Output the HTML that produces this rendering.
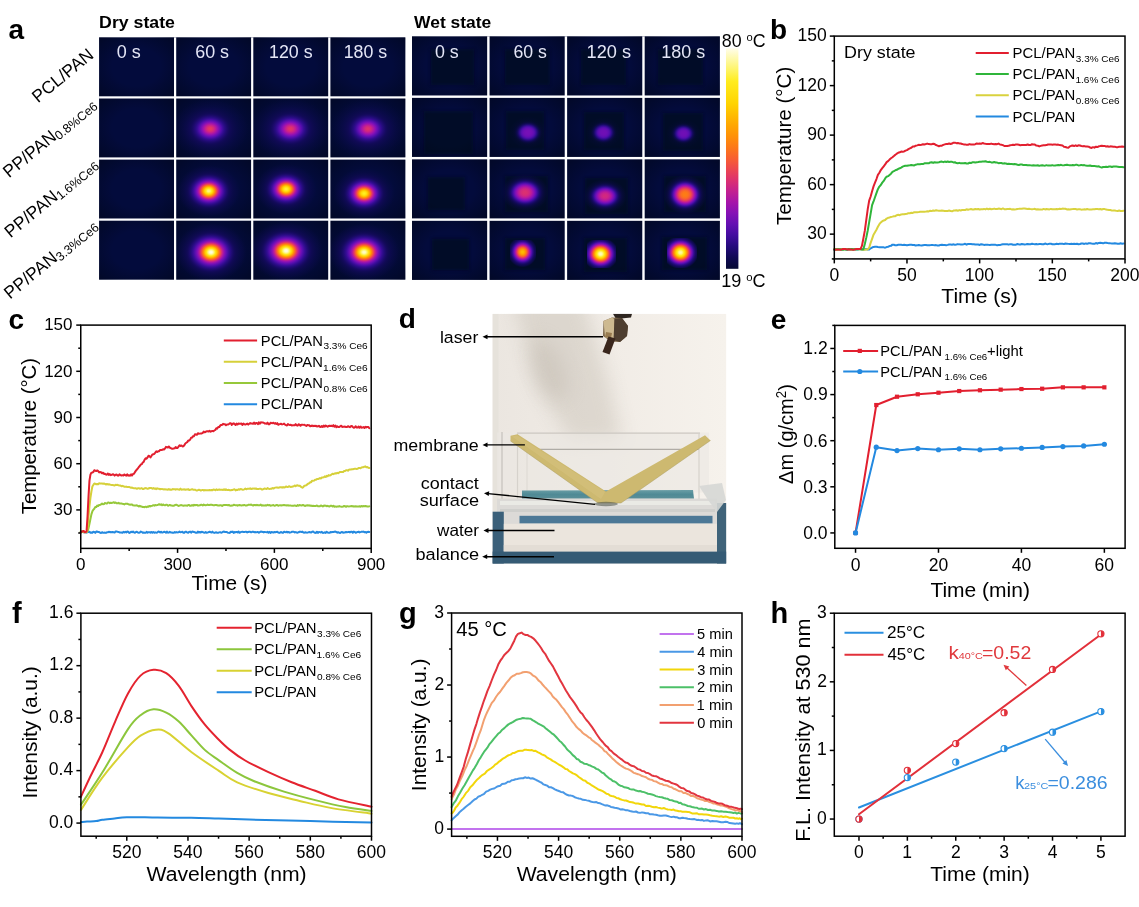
<!DOCTYPE html>
<html><head><meta charset="utf-8"><style>
html,body{margin:0;padding:0;background:#fff;overflow:hidden;}
svg{display:block;will-change:transform;}
text{font-family:"Liberation Sans",sans-serif;}
</style></head><body>
<svg width="1139" height="907" viewBox="0 0 1139 907">
<defs>
<clipPath id="dryclip"><rect x="99.1" y="37.4" width="306.20" height="242.20"/></clipPath>
<clipPath id="wetclip"><rect x="412.0" y="36.4" width="307.84" height="243.48"/></clipPath>
<radialGradient id="vig" cx="0.5" cy="0.5" r="0.72"><stop offset="0.45" stop-color="#000614" stop-opacity="0"/><stop offset="1" stop-color="#000614" stop-opacity="0.55"/></radialGradient>
<filter id="blur1" x="-20%" y="-20%" width="140%" height="140%"><feGaussianBlur stdDeviation="1.5"/></filter>
<radialGradient id="sg1" cx="0.5" cy="0.5" r="0.5"><stop offset="0.000" stop-color="#e63c5e" stop-opacity="1.00"/><stop offset="0.042" stop-color="#e43764" stop-opacity="1.00"/><stop offset="0.083" stop-color="#d82e75" stop-opacity="1.00"/><stop offset="0.125" stop-color="#c5218e" stop-opacity="1.00"/><stop offset="0.167" stop-color="#aa16a6" stop-opacity="1.00"/><stop offset="0.208" stop-color="#8a11b4" stop-opacity="1.00"/><stop offset="0.250" stop-color="#6b0fb5" stop-opacity="1.00"/><stop offset="0.292" stop-color="#500eab" stop-opacity="1.00"/><stop offset="0.333" stop-color="#3a0d97" stop-opacity="1.00"/><stop offset="0.375" stop-color="#290c85" stop-opacity="1.00"/><stop offset="0.417" stop-color="#200b73" stop-opacity="1.00"/><stop offset="0.458" stop-color="#180a65" stop-opacity="1.00"/><stop offset="0.500" stop-color="#120a59" stop-opacity="1.00"/><stop offset="0.542" stop-color="#100a54" stop-opacity="0.94"/><stop offset="0.583" stop-color="#100a54" stop-opacity="0.76"/><stop offset="0.625" stop-color="#100a54" stop-opacity="0.60"/><stop offset="0.667" stop-color="#100a54" stop-opacity="0.47"/><stop offset="0.708" stop-color="#100a54" stop-opacity="0.36"/><stop offset="0.750" stop-color="#100a54" stop-opacity="0.27"/><stop offset="0.792" stop-color="#100a54" stop-opacity="0.21"/><stop offset="0.833" stop-color="#100a54" stop-opacity="0.15"/><stop offset="0.875" stop-color="#100a54" stop-opacity="0.11"/><stop offset="0.917" stop-color="#100a54" stop-opacity="0.07"/><stop offset="0.958" stop-color="#100a54" stop-opacity="0.02"/><stop offset="1.000" stop-color="#100a54" stop-opacity="0.00"/></radialGradient>
<radialGradient id="sg2" cx="0.5" cy="0.5" r="0.5"><stop offset="0.000" stop-color="#e43764" stop-opacity="1.00"/><stop offset="0.042" stop-color="#e0346a" stop-opacity="1.00"/><stop offset="0.083" stop-color="#d42b7b" stop-opacity="1.00"/><stop offset="0.125" stop-color="#c01f93" stop-opacity="1.00"/><stop offset="0.167" stop-color="#a614a9" stop-opacity="1.00"/><stop offset="0.208" stop-color="#8611b6" stop-opacity="1.00"/><stop offset="0.250" stop-color="#680fb4" stop-opacity="1.00"/><stop offset="0.292" stop-color="#4e0ea9" stop-opacity="1.00"/><stop offset="0.333" stop-color="#380d95" stop-opacity="1.00"/><stop offset="0.375" stop-color="#280c83" stop-opacity="1.00"/><stop offset="0.417" stop-color="#1f0b71" stop-opacity="1.00"/><stop offset="0.458" stop-color="#170a63" stop-opacity="1.00"/><stop offset="0.500" stop-color="#110a58" stop-opacity="1.00"/><stop offset="0.542" stop-color="#100a54" stop-opacity="0.92"/><stop offset="0.583" stop-color="#100a54" stop-opacity="0.74"/><stop offset="0.625" stop-color="#100a54" stop-opacity="0.58"/><stop offset="0.667" stop-color="#100a54" stop-opacity="0.46"/><stop offset="0.708" stop-color="#100a54" stop-opacity="0.35"/><stop offset="0.750" stop-color="#100a54" stop-opacity="0.27"/><stop offset="0.792" stop-color="#100a54" stop-opacity="0.20"/><stop offset="0.833" stop-color="#100a54" stop-opacity="0.15"/><stop offset="0.875" stop-color="#100a54" stop-opacity="0.11"/><stop offset="0.917" stop-color="#100a54" stop-opacity="0.06"/><stop offset="0.958" stop-color="#100a54" stop-opacity="0.02"/><stop offset="1.000" stop-color="#100a54" stop-opacity="0.00"/></radialGradient>
<radialGradient id="sg3" cx="0.5" cy="0.5" r="0.5"><stop offset="0.000" stop-color="#df346b" stop-opacity="1.00"/><stop offset="0.042" stop-color="#db3071" stop-opacity="1.00"/><stop offset="0.083" stop-color="#cf2881" stop-opacity="1.00"/><stop offset="0.125" stop-color="#bb1d97" stop-opacity="1.00"/><stop offset="0.167" stop-color="#a114ac" stop-opacity="1.00"/><stop offset="0.208" stop-color="#8211b7" stop-opacity="1.00"/><stop offset="0.250" stop-color="#650fb3" stop-opacity="1.00"/><stop offset="0.292" stop-color="#4b0ea6" stop-opacity="1.00"/><stop offset="0.333" stop-color="#360c93" stop-opacity="1.00"/><stop offset="0.375" stop-color="#270c81" stop-opacity="1.00"/><stop offset="0.417" stop-color="#1e0b70" stop-opacity="1.00"/><stop offset="0.458" stop-color="#160a62" stop-opacity="1.00"/><stop offset="0.500" stop-color="#110a57" stop-opacity="1.00"/><stop offset="0.542" stop-color="#100a54" stop-opacity="0.90"/><stop offset="0.583" stop-color="#100a54" stop-opacity="0.72"/><stop offset="0.625" stop-color="#100a54" stop-opacity="0.57"/><stop offset="0.667" stop-color="#100a54" stop-opacity="0.45"/><stop offset="0.708" stop-color="#100a54" stop-opacity="0.34"/><stop offset="0.750" stop-color="#100a54" stop-opacity="0.26"/><stop offset="0.792" stop-color="#100a54" stop-opacity="0.20"/><stop offset="0.833" stop-color="#100a54" stop-opacity="0.14"/><stop offset="0.875" stop-color="#100a54" stop-opacity="0.10"/><stop offset="0.917" stop-color="#100a54" stop-opacity="0.06"/><stop offset="0.958" stop-color="#100a54" stop-opacity="0.02"/><stop offset="1.000" stop-color="#100a54" stop-opacity="0.00"/></radialGradient>
<radialGradient id="sg4" cx="0.5" cy="0.5" r="0.5"><stop offset="0.000" stop-color="#fdf88c" stop-opacity="1.00"/><stop offset="0.042" stop-color="#fef570" stop-opacity="1.00"/><stop offset="0.083" stop-color="#ffec22" stop-opacity="1.00"/><stop offset="0.125" stop-color="#ffd805" stop-opacity="1.00"/><stop offset="0.167" stop-color="#ffad00" stop-opacity="1.00"/><stop offset="0.208" stop-color="#fd7e13" stop-opacity="1.00"/><stop offset="0.250" stop-color="#ee4c4a" stop-opacity="1.00"/><stop offset="0.292" stop-color="#cf2782" stop-opacity="1.00"/><stop offset="0.333" stop-color="#a614a9" stop-opacity="1.00"/><stop offset="0.375" stop-color="#7e10b9" stop-opacity="1.00"/><stop offset="0.417" stop-color="#5f0eb1" stop-opacity="1.00"/><stop offset="0.458" stop-color="#460da2" stop-opacity="1.00"/><stop offset="0.500" stop-color="#320c90" stop-opacity="1.00"/><stop offset="0.542" stop-color="#250b7d" stop-opacity="1.00"/><stop offset="0.583" stop-color="#1c0b6c" stop-opacity="1.00"/><stop offset="0.625" stop-color="#140a5e" stop-opacity="1.00"/><stop offset="0.667" stop-color="#100a54" stop-opacity="1.00"/><stop offset="0.708" stop-color="#100a54" stop-opacity="0.78"/><stop offset="0.750" stop-color="#100a54" stop-opacity="0.59"/><stop offset="0.792" stop-color="#100a54" stop-opacity="0.44"/><stop offset="0.833" stop-color="#100a54" stop-opacity="0.33"/><stop offset="0.875" stop-color="#100a54" stop-opacity="0.24"/><stop offset="0.917" stop-color="#100a54" stop-opacity="0.14"/><stop offset="0.958" stop-color="#100a54" stop-opacity="0.05"/><stop offset="1.000" stop-color="#100a54" stop-opacity="0.00"/></radialGradient>
<radialGradient id="sg5" cx="0.5" cy="0.5" r="0.5"><stop offset="0.000" stop-color="#fef047" stop-opacity="1.00"/><stop offset="0.042" stop-color="#ffee2d" stop-opacity="1.00"/><stop offset="0.083" stop-color="#ffe211" stop-opacity="1.00"/><stop offset="0.125" stop-color="#ffc900" stop-opacity="1.00"/><stop offset="0.167" stop-color="#ff9d04" stop-opacity="1.00"/><stop offset="0.208" stop-color="#fb6f22" stop-opacity="1.00"/><stop offset="0.250" stop-color="#e84059" stop-opacity="1.00"/><stop offset="0.292" stop-color="#c5218f" stop-opacity="1.00"/><stop offset="0.333" stop-color="#9b13ae" stop-opacity="1.00"/><stop offset="0.375" stop-color="#7610b7" stop-opacity="1.00"/><stop offset="0.417" stop-color="#580eb0" stop-opacity="1.00"/><stop offset="0.458" stop-color="#400d9d" stop-opacity="1.00"/><stop offset="0.500" stop-color="#2d0c8c" stop-opacity="1.00"/><stop offset="0.542" stop-color="#230b79" stop-opacity="1.00"/><stop offset="0.583" stop-color="#1a0b68" stop-opacity="1.00"/><stop offset="0.625" stop-color="#130a5b" stop-opacity="1.00"/><stop offset="0.667" stop-color="#100a54" stop-opacity="0.96"/><stop offset="0.708" stop-color="#100a54" stop-opacity="0.74"/><stop offset="0.750" stop-color="#100a54" stop-opacity="0.56"/><stop offset="0.792" stop-color="#100a54" stop-opacity="0.42"/><stop offset="0.833" stop-color="#100a54" stop-opacity="0.31"/><stop offset="0.875" stop-color="#100a54" stop-opacity="0.22"/><stop offset="0.917" stop-color="#100a54" stop-opacity="0.13"/><stop offset="0.958" stop-color="#100a54" stop-opacity="0.05"/><stop offset="1.000" stop-color="#100a54" stop-opacity="0.00"/></radialGradient>
<radialGradient id="sg6" cx="0.5" cy="0.5" r="0.5"><stop offset="0.000" stop-color="#ffee2c" stop-opacity="1.00"/><stop offset="0.042" stop-color="#ffea1b" stop-opacity="1.00"/><stop offset="0.083" stop-color="#ffdd0c" stop-opacity="1.00"/><stop offset="0.125" stop-color="#ffc100" stop-opacity="1.00"/><stop offset="0.167" stop-color="#ff9705" stop-opacity="1.00"/><stop offset="0.208" stop-color="#fa6928" stop-opacity="1.00"/><stop offset="0.250" stop-color="#e63b60" stop-opacity="1.00"/><stop offset="0.292" stop-color="#c01f93" stop-opacity="1.00"/><stop offset="0.333" stop-color="#9713af" stop-opacity="1.00"/><stop offset="0.375" stop-color="#720fb6" stop-opacity="1.00"/><stop offset="0.417" stop-color="#550eaf" stop-opacity="1.00"/><stop offset="0.458" stop-color="#3e0d9b" stop-opacity="1.00"/><stop offset="0.500" stop-color="#2c0c8a" stop-opacity="1.00"/><stop offset="0.542" stop-color="#220b77" stop-opacity="1.00"/><stop offset="0.583" stop-color="#190b67" stop-opacity="1.00"/><stop offset="0.625" stop-color="#120a5a" stop-opacity="1.00"/><stop offset="0.667" stop-color="#100a54" stop-opacity="0.93"/><stop offset="0.708" stop-color="#100a54" stop-opacity="0.72"/><stop offset="0.750" stop-color="#100a54" stop-opacity="0.55"/><stop offset="0.792" stop-color="#100a54" stop-opacity="0.41"/><stop offset="0.833" stop-color="#100a54" stop-opacity="0.30"/><stop offset="0.875" stop-color="#100a54" stop-opacity="0.22"/><stop offset="0.917" stop-color="#100a54" stop-opacity="0.13"/><stop offset="0.958" stop-color="#100a54" stop-opacity="0.05"/><stop offset="1.000" stop-color="#100a54" stop-opacity="0.00"/></radialGradient>
<radialGradient id="sg7" cx="0.5" cy="0.5" r="0.5"><stop offset="0.000" stop-color="#fffdeb" stop-opacity="1.00"/><stop offset="0.042" stop-color="#fefbce" stop-opacity="1.00"/><stop offset="0.083" stop-color="#fdf67a" stop-opacity="1.00"/><stop offset="0.125" stop-color="#ffe617" stop-opacity="1.00"/><stop offset="0.167" stop-color="#ffc500" stop-opacity="1.00"/><stop offset="0.208" stop-color="#ff9107" stop-opacity="1.00"/><stop offset="0.250" stop-color="#f75d34" stop-opacity="1.00"/><stop offset="0.292" stop-color="#dc3170" stop-opacity="1.00"/><stop offset="0.333" stop-color="#b31a9e" stop-opacity="1.00"/><stop offset="0.375" stop-color="#8a11b4" stop-opacity="1.00"/><stop offset="0.417" stop-color="#690fb4" stop-opacity="1.00"/><stop offset="0.458" stop-color="#4e0ea9" stop-opacity="1.00"/><stop offset="0.500" stop-color="#380d96" stop-opacity="1.00"/><stop offset="0.542" stop-color="#280c84" stop-opacity="1.00"/><stop offset="0.583" stop-color="#1f0b71" stop-opacity="1.00"/><stop offset="0.625" stop-color="#160a62" stop-opacity="1.00"/><stop offset="0.667" stop-color="#110a56" stop-opacity="1.00"/><stop offset="0.708" stop-color="#100a54" stop-opacity="0.84"/><stop offset="0.750" stop-color="#100a54" stop-opacity="0.64"/><stop offset="0.792" stop-color="#100a54" stop-opacity="0.48"/><stop offset="0.833" stop-color="#100a54" stop-opacity="0.35"/><stop offset="0.875" stop-color="#100a54" stop-opacity="0.26"/><stop offset="0.917" stop-color="#100a54" stop-opacity="0.15"/><stop offset="0.958" stop-color="#100a54" stop-opacity="0.05"/><stop offset="1.000" stop-color="#100a54" stop-opacity="0.00"/></radialGradient>
<radialGradient id="sg8" cx="0.5" cy="0.5" r="0.5"><stop offset="0.000" stop-color="#fffdeb" stop-opacity="1.00"/><stop offset="0.042" stop-color="#fefbce" stop-opacity="1.00"/><stop offset="0.083" stop-color="#fdf67a" stop-opacity="1.00"/><stop offset="0.125" stop-color="#ffe617" stop-opacity="1.00"/><stop offset="0.167" stop-color="#ffc500" stop-opacity="1.00"/><stop offset="0.208" stop-color="#ff9107" stop-opacity="1.00"/><stop offset="0.250" stop-color="#f75d34" stop-opacity="1.00"/><stop offset="0.292" stop-color="#dc3170" stop-opacity="1.00"/><stop offset="0.333" stop-color="#b31a9e" stop-opacity="1.00"/><stop offset="0.375" stop-color="#8a11b4" stop-opacity="1.00"/><stop offset="0.417" stop-color="#690fb4" stop-opacity="1.00"/><stop offset="0.458" stop-color="#4e0ea9" stop-opacity="1.00"/><stop offset="0.500" stop-color="#380d96" stop-opacity="1.00"/><stop offset="0.542" stop-color="#280c84" stop-opacity="1.00"/><stop offset="0.583" stop-color="#1f0b71" stop-opacity="1.00"/><stop offset="0.625" stop-color="#160a62" stop-opacity="1.00"/><stop offset="0.667" stop-color="#110a56" stop-opacity="1.00"/><stop offset="0.708" stop-color="#100a54" stop-opacity="0.84"/><stop offset="0.750" stop-color="#100a54" stop-opacity="0.64"/><stop offset="0.792" stop-color="#100a54" stop-opacity="0.48"/><stop offset="0.833" stop-color="#100a54" stop-opacity="0.35"/><stop offset="0.875" stop-color="#100a54" stop-opacity="0.26"/><stop offset="0.917" stop-color="#100a54" stop-opacity="0.15"/><stop offset="0.958" stop-color="#100a54" stop-opacity="0.05"/><stop offset="1.000" stop-color="#100a54" stop-opacity="0.00"/></radialGradient>
<radialGradient id="sg9" cx="0.5" cy="0.5" r="0.5"><stop offset="0.000" stop-color="#fefcd0" stop-opacity="1.00"/><stop offset="0.042" stop-color="#fefab3" stop-opacity="1.00"/><stop offset="0.083" stop-color="#fef361" stop-opacity="1.00"/><stop offset="0.125" stop-color="#ffe212" stop-opacity="1.00"/><stop offset="0.167" stop-color="#ffbe00" stop-opacity="1.00"/><stop offset="0.208" stop-color="#ff8c09" stop-opacity="1.00"/><stop offset="0.250" stop-color="#f5583a" stop-opacity="1.00"/><stop offset="0.292" stop-color="#d82e75" stop-opacity="1.00"/><stop offset="0.333" stop-color="#af18a1" stop-opacity="1.00"/><stop offset="0.375" stop-color="#8711b5" stop-opacity="1.00"/><stop offset="0.417" stop-color="#660fb3" stop-opacity="1.00"/><stop offset="0.458" stop-color="#4b0ea7" stop-opacity="1.00"/><stop offset="0.500" stop-color="#360c94" stop-opacity="1.00"/><stop offset="0.542" stop-color="#270c82" stop-opacity="1.00"/><stop offset="0.583" stop-color="#1e0b70" stop-opacity="1.00"/><stop offset="0.625" stop-color="#160a61" stop-opacity="1.00"/><stop offset="0.667" stop-color="#110a56" stop-opacity="1.00"/><stop offset="0.708" stop-color="#100a54" stop-opacity="0.82"/><stop offset="0.750" stop-color="#100a54" stop-opacity="0.62"/><stop offset="0.792" stop-color="#100a54" stop-opacity="0.47"/><stop offset="0.833" stop-color="#100a54" stop-opacity="0.34"/><stop offset="0.875" stop-color="#100a54" stop-opacity="0.25"/><stop offset="0.917" stop-color="#100a54" stop-opacity="0.15"/><stop offset="0.958" stop-color="#100a54" stop-opacity="0.05"/><stop offset="1.000" stop-color="#100a54" stop-opacity="0.00"/></radialGradient>
<radialGradient id="sg10" cx="0.5" cy="0.5" r="0.5"><stop offset="0.000" stop-color="#7610b7" stop-opacity="1.00"/><stop offset="0.042" stop-color="#7610b7" stop-opacity="1.00"/><stop offset="0.083" stop-color="#7610b7" stop-opacity="1.00"/><stop offset="0.125" stop-color="#7410b7" stop-opacity="1.00"/><stop offset="0.167" stop-color="#720fb6" stop-opacity="1.00"/><stop offset="0.208" stop-color="#6f0fb5" stop-opacity="1.00"/><stop offset="0.250" stop-color="#690fb4" stop-opacity="1.00"/><stop offset="0.292" stop-color="#610fb2" stop-opacity="1.00"/><stop offset="0.333" stop-color="#570eaf" stop-opacity="1.00"/><stop offset="0.375" stop-color="#4a0da5" stop-opacity="1.00"/><stop offset="0.417" stop-color="#3a0d97" stop-opacity="1.00"/><stop offset="0.458" stop-color="#2a0c87" stop-opacity="1.00"/><stop offset="0.500" stop-color="#1f0b71" stop-opacity="1.00"/><stop offset="0.542" stop-color="#140a5d" stop-opacity="1.00"/><stop offset="0.583" stop-color="#100a54" stop-opacity="0.88"/><stop offset="0.625" stop-color="#100a54" stop-opacity="0.57"/><stop offset="0.667" stop-color="#100a54" stop-opacity="0.37"/><stop offset="0.708" stop-color="#100a54" stop-opacity="0.24"/><stop offset="0.750" stop-color="#100a54" stop-opacity="0.17"/><stop offset="0.792" stop-color="#100a54" stop-opacity="0.12"/><stop offset="0.833" stop-color="#100a54" stop-opacity="0.09"/><stop offset="0.875" stop-color="#100a54" stop-opacity="0.07"/><stop offset="0.917" stop-color="#100a54" stop-opacity="0.05"/><stop offset="0.958" stop-color="#100a54" stop-opacity="0.02"/><stop offset="1.000" stop-color="#100a54" stop-opacity="0.00"/></radialGradient>
<radialGradient id="sg11" cx="0.5" cy="0.5" r="0.5"><stop offset="0.000" stop-color="#700fb6" stop-opacity="1.00"/><stop offset="0.042" stop-color="#6f0fb6" stop-opacity="1.00"/><stop offset="0.083" stop-color="#6f0fb5" stop-opacity="1.00"/><stop offset="0.125" stop-color="#6e0fb5" stop-opacity="1.00"/><stop offset="0.167" stop-color="#6c0fb5" stop-opacity="1.00"/><stop offset="0.208" stop-color="#680fb4" stop-opacity="1.00"/><stop offset="0.250" stop-color="#630fb3" stop-opacity="1.00"/><stop offset="0.292" stop-color="#5c0eb1" stop-opacity="1.00"/><stop offset="0.333" stop-color="#520eac" stop-opacity="1.00"/><stop offset="0.375" stop-color="#450da1" stop-opacity="1.00"/><stop offset="0.417" stop-color="#360c94" stop-opacity="1.00"/><stop offset="0.458" stop-color="#280c83" stop-opacity="1.00"/><stop offset="0.500" stop-color="#1d0b6e" stop-opacity="1.00"/><stop offset="0.542" stop-color="#120a5b" stop-opacity="1.00"/><stop offset="0.583" stop-color="#100a54" stop-opacity="0.84"/><stop offset="0.625" stop-color="#100a54" stop-opacity="0.55"/><stop offset="0.667" stop-color="#100a54" stop-opacity="0.35"/><stop offset="0.708" stop-color="#100a54" stop-opacity="0.23"/><stop offset="0.750" stop-color="#100a54" stop-opacity="0.16"/><stop offset="0.792" stop-color="#100a54" stop-opacity="0.12"/><stop offset="0.833" stop-color="#100a54" stop-opacity="0.09"/><stop offset="0.875" stop-color="#100a54" stop-opacity="0.07"/><stop offset="0.917" stop-color="#100a54" stop-opacity="0.05"/><stop offset="0.958" stop-color="#100a54" stop-opacity="0.02"/><stop offset="1.000" stop-color="#100a54" stop-opacity="0.00"/></radialGradient>
<radialGradient id="sg12" cx="0.5" cy="0.5" r="0.5"><stop offset="0.000" stop-color="#700fb6" stop-opacity="1.00"/><stop offset="0.042" stop-color="#6f0fb6" stop-opacity="1.00"/><stop offset="0.083" stop-color="#6f0fb5" stop-opacity="1.00"/><stop offset="0.125" stop-color="#6e0fb5" stop-opacity="1.00"/><stop offset="0.167" stop-color="#6c0fb5" stop-opacity="1.00"/><stop offset="0.208" stop-color="#680fb4" stop-opacity="1.00"/><stop offset="0.250" stop-color="#630fb3" stop-opacity="1.00"/><stop offset="0.292" stop-color="#5c0eb1" stop-opacity="1.00"/><stop offset="0.333" stop-color="#520eac" stop-opacity="1.00"/><stop offset="0.375" stop-color="#450da1" stop-opacity="1.00"/><stop offset="0.417" stop-color="#360c94" stop-opacity="1.00"/><stop offset="0.458" stop-color="#280c83" stop-opacity="1.00"/><stop offset="0.500" stop-color="#1d0b6e" stop-opacity="1.00"/><stop offset="0.542" stop-color="#120a5b" stop-opacity="1.00"/><stop offset="0.583" stop-color="#100a54" stop-opacity="0.84"/><stop offset="0.625" stop-color="#100a54" stop-opacity="0.55"/><stop offset="0.667" stop-color="#100a54" stop-opacity="0.35"/><stop offset="0.708" stop-color="#100a54" stop-opacity="0.23"/><stop offset="0.750" stop-color="#100a54" stop-opacity="0.16"/><stop offset="0.792" stop-color="#100a54" stop-opacity="0.12"/><stop offset="0.833" stop-color="#100a54" stop-opacity="0.09"/><stop offset="0.875" stop-color="#100a54" stop-opacity="0.07"/><stop offset="0.917" stop-color="#100a54" stop-opacity="0.05"/><stop offset="0.958" stop-color="#100a54" stop-opacity="0.02"/><stop offset="1.000" stop-color="#100a54" stop-opacity="0.00"/></radialGradient>
<radialGradient id="sg13" cx="0.5" cy="0.5" r="0.5"><stop offset="0.000" stop-color="#db3071" stop-opacity="1.00"/><stop offset="0.042" stop-color="#da3072" stop-opacity="1.00"/><stop offset="0.083" stop-color="#d92f74" stop-opacity="1.00"/><stop offset="0.125" stop-color="#d62c78" stop-opacity="1.00"/><stop offset="0.167" stop-color="#d1297f" stop-opacity="1.00"/><stop offset="0.208" stop-color="#ca2489" stop-opacity="1.00"/><stop offset="0.250" stop-color="#bf1e94" stop-opacity="1.00"/><stop offset="0.292" stop-color="#b119a0" stop-opacity="1.00"/><stop offset="0.333" stop-color="#9f13ac" stop-opacity="1.00"/><stop offset="0.375" stop-color="#8a11b4" stop-opacity="1.00"/><stop offset="0.417" stop-color="#730fb6" stop-opacity="1.00"/><stop offset="0.458" stop-color="#5b0eb1" stop-opacity="1.00"/><stop offset="0.500" stop-color="#450da1" stop-opacity="1.00"/><stop offset="0.542" stop-color="#300c8e" stop-opacity="1.00"/><stop offset="0.583" stop-color="#220b78" stop-opacity="1.00"/><stop offset="0.625" stop-color="#180a65" stop-opacity="1.00"/><stop offset="0.667" stop-color="#110a56" stop-opacity="1.00"/><stop offset="0.708" stop-color="#100a54" stop-opacity="0.78"/><stop offset="0.750" stop-color="#100a54" stop-opacity="0.57"/><stop offset="0.792" stop-color="#100a54" stop-opacity="0.41"/><stop offset="0.833" stop-color="#100a54" stop-opacity="0.30"/><stop offset="0.875" stop-color="#100a54" stop-opacity="0.22"/><stop offset="0.917" stop-color="#100a54" stop-opacity="0.13"/><stop offset="0.958" stop-color="#100a54" stop-opacity="0.05"/><stop offset="1.000" stop-color="#100a54" stop-opacity="0.00"/></radialGradient>
<radialGradient id="sg14" cx="0.5" cy="0.5" r="0.5"><stop offset="0.000" stop-color="#d1297f" stop-opacity="1.00"/><stop offset="0.042" stop-color="#d1297f" stop-opacity="1.00"/><stop offset="0.083" stop-color="#d02881" stop-opacity="1.00"/><stop offset="0.125" stop-color="#cd2685" stop-opacity="1.00"/><stop offset="0.167" stop-color="#c8228c" stop-opacity="1.00"/><stop offset="0.208" stop-color="#c01f93" stop-opacity="1.00"/><stop offset="0.250" stop-color="#b51a9c" stop-opacity="1.00"/><stop offset="0.292" stop-color="#a715a8" stop-opacity="1.00"/><stop offset="0.333" stop-color="#9512b0" stop-opacity="1.00"/><stop offset="0.375" stop-color="#8110b7" stop-opacity="1.00"/><stop offset="0.417" stop-color="#6b0fb5" stop-opacity="1.00"/><stop offset="0.458" stop-color="#550eaf" stop-opacity="1.00"/><stop offset="0.500" stop-color="#3f0d9c" stop-opacity="1.00"/><stop offset="0.542" stop-color="#2c0c8a" stop-opacity="1.00"/><stop offset="0.583" stop-color="#200b74" stop-opacity="1.00"/><stop offset="0.625" stop-color="#160a62" stop-opacity="1.00"/><stop offset="0.667" stop-color="#100a54" stop-opacity="1.00"/><stop offset="0.708" stop-color="#100a54" stop-opacity="0.74"/><stop offset="0.750" stop-color="#100a54" stop-opacity="0.54"/><stop offset="0.792" stop-color="#100a54" stop-opacity="0.39"/><stop offset="0.833" stop-color="#100a54" stop-opacity="0.28"/><stop offset="0.875" stop-color="#100a54" stop-opacity="0.21"/><stop offset="0.917" stop-color="#100a54" stop-opacity="0.13"/><stop offset="0.958" stop-color="#100a54" stop-opacity="0.05"/><stop offset="1.000" stop-color="#100a54" stop-opacity="0.00"/></radialGradient>
<radialGradient id="sg15" cx="0.5" cy="0.5" r="0.5"><stop offset="0.000" stop-color="#fd7d14" stop-opacity="1.00"/><stop offset="0.042" stop-color="#fd7c15" stop-opacity="1.00"/><stop offset="0.083" stop-color="#fd7a17" stop-opacity="1.00"/><stop offset="0.125" stop-color="#fc761b" stop-opacity="1.00"/><stop offset="0.167" stop-color="#fb6f22" stop-opacity="1.00"/><stop offset="0.208" stop-color="#f9642d" stop-opacity="1.00"/><stop offset="0.250" stop-color="#f4563d" stop-opacity="1.00"/><stop offset="0.292" stop-color="#eb4552" stop-opacity="1.00"/><stop offset="0.333" stop-color="#de336c" stop-opacity="1.00"/><stop offset="0.375" stop-color="#c9238a" stop-opacity="1.00"/><stop offset="0.417" stop-color="#ad17a3" stop-opacity="1.00"/><stop offset="0.458" stop-color="#8e12b3" stop-opacity="1.00"/><stop offset="0.500" stop-color="#6e0fb5" stop-opacity="1.00"/><stop offset="0.542" stop-color="#510eab" stop-opacity="1.00"/><stop offset="0.583" stop-color="#370c95" stop-opacity="1.00"/><stop offset="0.625" stop-color="#250b7d" stop-opacity="1.00"/><stop offset="0.667" stop-color="#190b67" stop-opacity="1.00"/><stop offset="0.708" stop-color="#110a57" stop-opacity="1.00"/><stop offset="0.750" stop-color="#100a54" stop-opacity="0.79"/><stop offset="0.792" stop-color="#100a54" stop-opacity="0.57"/><stop offset="0.833" stop-color="#100a54" stop-opacity="0.41"/><stop offset="0.875" stop-color="#100a54" stop-opacity="0.30"/><stop offset="0.917" stop-color="#100a54" stop-opacity="0.19"/><stop offset="0.958" stop-color="#100a54" stop-opacity="0.07"/><stop offset="1.000" stop-color="#100a54" stop-opacity="0.00"/></radialGradient>
<radialGradient id="sg16" cx="0.5" cy="0.5" r="0.5"><stop offset="0.000" stop-color="#ffbd00" stop-opacity="1.00"/><stop offset="0.042" stop-color="#ffbb00" stop-opacity="1.00"/><stop offset="0.083" stop-color="#ffb400" stop-opacity="1.00"/><stop offset="0.125" stop-color="#ffaa00" stop-opacity="1.00"/><stop offset="0.167" stop-color="#ff9d04" stop-opacity="1.00"/><stop offset="0.208" stop-color="#ff8d08" stop-opacity="1.00"/><stop offset="0.250" stop-color="#fd7918" stop-opacity="1.00"/><stop offset="0.292" stop-color="#f9632e" stop-opacity="1.00"/><stop offset="0.333" stop-color="#ee4b4b" stop-opacity="1.00"/><stop offset="0.375" stop-color="#e0346a" stop-opacity="1.00"/><stop offset="0.417" stop-color="#c9238a" stop-opacity="1.00"/><stop offset="0.458" stop-color="#af18a2" stop-opacity="1.00"/><stop offset="0.500" stop-color="#9212b1" stop-opacity="1.00"/><stop offset="0.542" stop-color="#7710b8" stop-opacity="1.00"/><stop offset="0.583" stop-color="#5e0eb1" stop-opacity="1.00"/><stop offset="0.625" stop-color="#480da4" stop-opacity="1.00"/><stop offset="0.667" stop-color="#340c92" stop-opacity="1.00"/><stop offset="0.708" stop-color="#270c80" stop-opacity="1.00"/><stop offset="0.750" stop-color="#1d0b6e" stop-opacity="1.00"/><stop offset="0.792" stop-color="#150a5f" stop-opacity="1.00"/><stop offset="0.833" stop-color="#100a55" stop-opacity="1.00"/><stop offset="0.875" stop-color="#100a54" stop-opacity="0.79"/><stop offset="0.917" stop-color="#100a54" stop-opacity="0.50"/><stop offset="0.958" stop-color="#100a54" stop-opacity="0.19"/><stop offset="1.000" stop-color="#100a54" stop-opacity="0.00"/></radialGradient>
<clipPath id="cl17"><rect x="510" y="240" width="26" height="30"/></clipPath>
<radialGradient id="sg18" cx="0.5" cy="0.5" r="0.5"><stop offset="0.000" stop-color="#fefbc2" stop-opacity="1.00"/><stop offset="0.042" stop-color="#fefaba" stop-opacity="1.00"/><stop offset="0.083" stop-color="#fdf9a0" stop-opacity="1.00"/><stop offset="0.125" stop-color="#fdf676" stop-opacity="1.00"/><stop offset="0.167" stop-color="#feef3e" stop-opacity="1.00"/><stop offset="0.208" stop-color="#ffe516" stop-opacity="1.00"/><stop offset="0.250" stop-color="#ffd805" stop-opacity="1.00"/><stop offset="0.292" stop-color="#ffbe00" stop-opacity="1.00"/><stop offset="0.333" stop-color="#ffa003" stop-opacity="1.00"/><stop offset="0.375" stop-color="#fe820f" stop-opacity="1.00"/><stop offset="0.417" stop-color="#f86031" stop-opacity="1.00"/><stop offset="0.458" stop-color="#e94059" stop-opacity="1.00"/><stop offset="0.500" stop-color="#d02881" stop-opacity="1.00"/><stop offset="0.542" stop-color="#b119a0" stop-opacity="1.00"/><stop offset="0.583" stop-color="#9012b2" stop-opacity="1.00"/><stop offset="0.625" stop-color="#710fb6" stop-opacity="1.00"/><stop offset="0.667" stop-color="#560eaf" stop-opacity="1.00"/><stop offset="0.708" stop-color="#3f0d9c" stop-opacity="1.00"/><stop offset="0.750" stop-color="#2c0c89" stop-opacity="1.00"/><stop offset="0.792" stop-color="#200b75" stop-opacity="1.00"/><stop offset="0.833" stop-color="#170a64" stop-opacity="1.00"/><stop offset="0.875" stop-color="#110a57" stop-opacity="1.00"/><stop offset="0.917" stop-color="#100a54" stop-opacity="0.69"/><stop offset="0.958" stop-color="#100a54" stop-opacity="0.26"/><stop offset="1.000" stop-color="#100a54" stop-opacity="0.00"/></radialGradient>
<clipPath id="cl19"><rect x="587" y="240" width="29" height="28"/></clipPath>
<radialGradient id="sg20" cx="0.5" cy="0.5" r="0.5"><stop offset="0.000" stop-color="#fef9a7" stop-opacity="1.00"/><stop offset="0.042" stop-color="#fdf99f" stop-opacity="1.00"/><stop offset="0.083" stop-color="#fdf786" stop-opacity="1.00"/><stop offset="0.125" stop-color="#fef35c" stop-opacity="1.00"/><stop offset="0.167" stop-color="#ffed25" stop-opacity="1.00"/><stop offset="0.208" stop-color="#ffe111" stop-opacity="1.00"/><stop offset="0.250" stop-color="#ffd400" stop-opacity="1.00"/><stop offset="0.292" stop-color="#ffb700" stop-opacity="1.00"/><stop offset="0.333" stop-color="#ff9a05" stop-opacity="1.00"/><stop offset="0.375" stop-color="#fd7c15" stop-opacity="1.00"/><stop offset="0.417" stop-color="#f65b37" stop-opacity="1.00"/><stop offset="0.458" stop-color="#e63c5e" stop-opacity="1.00"/><stop offset="0.500" stop-color="#cc2586" stop-opacity="1.00"/><stop offset="0.542" stop-color="#ad17a3" stop-opacity="1.00"/><stop offset="0.583" stop-color="#8c12b3" stop-opacity="1.00"/><stop offset="0.625" stop-color="#6e0fb5" stop-opacity="1.00"/><stop offset="0.667" stop-color="#540eae" stop-opacity="1.00"/><stop offset="0.708" stop-color="#3d0d9a" stop-opacity="1.00"/><stop offset="0.750" stop-color="#2b0c87" stop-opacity="1.00"/><stop offset="0.792" stop-color="#200b73" stop-opacity="1.00"/><stop offset="0.833" stop-color="#170a62" stop-opacity="1.00"/><stop offset="0.875" stop-color="#110a56" stop-opacity="1.00"/><stop offset="0.917" stop-color="#100a54" stop-opacity="0.68"/><stop offset="0.958" stop-color="#100a54" stop-opacity="0.25"/><stop offset="1.000" stop-color="#100a54" stop-opacity="0.00"/></radialGradient>
<clipPath id="cl21"><rect x="667" y="238" width="30" height="30"/></clipPath>
<linearGradient id="cbar" x1="0" y1="0" x2="0" y2="1"><stop offset="0.000" stop-color="#fffdeb"/><stop offset="0.050" stop-color="#fef9a7"/><stop offset="0.100" stop-color="#fef463"/><stop offset="0.150" stop-color="#ffec1e"/><stop offset="0.200" stop-color="#ffe00f"/><stop offset="0.250" stop-color="#ffd400"/><stop offset="0.300" stop-color="#ffbd00"/><stop offset="0.350" stop-color="#ffa601"/><stop offset="0.400" stop-color="#ff9008"/><stop offset="0.450" stop-color="#fc7819"/><stop offset="0.500" stop-color="#f85f32"/><stop offset="0.550" stop-color="#ec4651"/><stop offset="0.600" stop-color="#db3071"/><stop offset="0.650" stop-color="#c22091"/><stop offset="0.700" stop-color="#a514aa"/><stop offset="0.750" stop-color="#8411b6"/><stop offset="0.800" stop-color="#620fb2"/><stop offset="0.850" stop-color="#410d9e"/><stop offset="0.900" stop-color="#240b7b"/><stop offset="0.950" stop-color="#100a54"/><stop offset="1.000" stop-color="#060a34"/></linearGradient>
<clipPath id="dclip"><rect x="492.4" y="313.8" width="234.0" height="249.9"/></clipPath>
<filter id="db3" x="-50%" y="-50%" width="200%" height="200%"><feGaussianBlur stdDeviation="3"/></filter>
<filter id="db8" x="-50%" y="-50%" width="200%" height="200%"><feGaussianBlur stdDeviation="9"/></filter>
<filter id="db1" x="-20%" y="-20%" width="140%" height="140%"><feGaussianBlur stdDeviation="0.8"/></filter>
<linearGradient id="dbg" x1="0" y1="0" x2="1" y2="0"><stop offset="0" stop-color="#ebe6e0"/><stop offset="0.5" stop-color="#f1ece6"/><stop offset="1" stop-color="#f6f2ec"/></linearGradient>
<linearGradient id="teal" x1="0" y1="0" x2="0" y2="1"><stop offset="0" stop-color="#6a9ea6"/><stop offset="0.5" stop-color="#4f8a95"/><stop offset="1" stop-color="#5b8f98"/></linearGradient>
</defs>
<rect width="1139" height="907" fill="#fff"/>
<text transform="translate(9.30,39.00) translate(-0.82,0)" fill="#000" ><tspan font-size="28" font-weight="bold" dy="0">a</tspan></text>
<text transform="translate(100.30,27.80) translate(-1.19,0) scale(1.0431,1)" fill="#000" ><tspan font-size="17" font-weight="bold" dy="0">Dry state</tspan></text>
<text transform="translate(414.10,27.80) translate(-0.02,0) scale(1.0257,1)" fill="#000" ><tspan font-size="17" font-weight="bold" dy="0">Wet state</tspan></text>
<rect x="99.10" y="37.40" width="306.20" height="242.20" fill="#030b3c" />
<rect x="412.00" y="36.40" width="307.84" height="243.48" fill="#030b3c" />
<rect x="99.10" y="37.40" width="74.90" height="58.90" fill="url(#vig)" />
<rect x="412.00" y="36.40" width="75.16" height="59.07" fill="url(#vig)" />
<rect x="176.20" y="37.40" width="74.90" height="58.90" fill="url(#vig)" />
<rect x="489.56" y="36.40" width="75.16" height="59.07" fill="url(#vig)" />
<rect x="253.30" y="37.40" width="74.90" height="58.90" fill="url(#vig)" />
<rect x="567.12" y="36.40" width="75.16" height="59.07" fill="url(#vig)" />
<rect x="330.40" y="37.40" width="74.90" height="58.90" fill="url(#vig)" />
<rect x="644.68" y="36.40" width="75.16" height="59.07" fill="url(#vig)" />
<rect x="99.10" y="98.50" width="74.90" height="58.90" fill="url(#vig)" />
<rect x="412.00" y="97.87" width="75.16" height="59.07" fill="url(#vig)" />
<rect x="176.20" y="98.50" width="74.90" height="58.90" fill="url(#vig)" />
<rect x="489.56" y="97.87" width="75.16" height="59.07" fill="url(#vig)" />
<rect x="253.30" y="98.50" width="74.90" height="58.90" fill="url(#vig)" />
<rect x="567.12" y="97.87" width="75.16" height="59.07" fill="url(#vig)" />
<rect x="330.40" y="98.50" width="74.90" height="58.90" fill="url(#vig)" />
<rect x="644.68" y="97.87" width="75.16" height="59.07" fill="url(#vig)" />
<rect x="99.10" y="159.60" width="74.90" height="58.90" fill="url(#vig)" />
<rect x="412.00" y="159.34" width="75.16" height="59.07" fill="url(#vig)" />
<rect x="176.20" y="159.60" width="74.90" height="58.90" fill="url(#vig)" />
<rect x="489.56" y="159.34" width="75.16" height="59.07" fill="url(#vig)" />
<rect x="253.30" y="159.60" width="74.90" height="58.90" fill="url(#vig)" />
<rect x="567.12" y="159.34" width="75.16" height="59.07" fill="url(#vig)" />
<rect x="330.40" y="159.60" width="74.90" height="58.90" fill="url(#vig)" />
<rect x="644.68" y="159.34" width="75.16" height="59.07" fill="url(#vig)" />
<rect x="99.10" y="220.70" width="74.90" height="58.90" fill="url(#vig)" />
<rect x="412.00" y="220.81" width="75.16" height="59.07" fill="url(#vig)" />
<rect x="176.20" y="220.70" width="74.90" height="58.90" fill="url(#vig)" />
<rect x="489.56" y="220.81" width="75.16" height="59.07" fill="url(#vig)" />
<rect x="253.30" y="220.70" width="74.90" height="58.90" fill="url(#vig)" />
<rect x="567.12" y="220.81" width="75.16" height="59.07" fill="url(#vig)" />
<rect x="330.40" y="220.70" width="74.90" height="58.90" fill="url(#vig)" />
<rect x="644.68" y="220.81" width="75.16" height="59.07" fill="url(#vig)" />
<rect x="430.5" y="49.2" width="43.9" height="35.6" fill="#030c16" opacity="0.55" filter="url(#blur1)"/>
<rect x="504.5" y="49.2" width="45.2" height="35.6" fill="#030c16" opacity="0.55" filter="url(#blur1)"/>
<rect x="581" y="49.2" width="45.0" height="35.6" fill="#030c16" opacity="0.55" filter="url(#blur1)"/>
<rect x="658" y="49.2" width="45.0" height="35.6" fill="#030c16" opacity="0.55" filter="url(#blur1)"/>
<rect x="423.7" y="111.4" width="49.3" height="42.6" fill="#030c16" opacity="0.55" filter="url(#blur1)"/>
<rect x="505.9" y="111.4" width="38.3" height="38.4" fill="#030c16" opacity="0.55" filter="url(#blur1)"/>
<rect x="584" y="112" width="40.0" height="38.0" fill="#030c16" opacity="0.55" filter="url(#blur1)"/>
<rect x="663" y="113" width="40.0" height="38.0" fill="#030c16" opacity="0.55" filter="url(#blur1)"/>
<rect x="427.8" y="177.2" width="37.0" height="32.8" fill="#030c16" opacity="0.55" filter="url(#blur1)"/>
<rect x="505" y="176" width="43.0" height="36.0" fill="#030c16" opacity="0.55" filter="url(#blur1)"/>
<rect x="585" y="178" width="43.0" height="36.0" fill="#030c16" opacity="0.55" filter="url(#blur1)"/>
<rect x="664" y="176" width="42.0" height="36.0" fill="#030c16" opacity="0.55" filter="url(#blur1)"/>
<rect x="432" y="238.8" width="37.0" height="31.5" fill="#030c16" opacity="0.55" filter="url(#blur1)"/>
<rect x="505" y="238" width="40.0" height="32.0" fill="#030c16" opacity="0.55" filter="url(#blur1)"/>
<rect x="584" y="238" width="43.0" height="34.0" fill="#030c16" opacity="0.55" filter="url(#blur1)"/>
<rect x="662" y="237" width="45.0" height="33.0" fill="#030c16" opacity="0.55" filter="url(#blur1)"/>
<g clip-path="url(#dryclip)">
<ellipse cx="210.2" cy="128.9" rx="38.6" ry="30.4" fill="url(#sg1)"/>
<ellipse cx="290.4" cy="128.9" rx="40.0" ry="31.0" fill="url(#sg2)"/>
<ellipse cx="367.9" cy="128.9" rx="38.6" ry="30.4" fill="url(#sg3)"/>
<ellipse cx="208.7" cy="191.0" rx="31.7" ry="26.2" fill="url(#sg4)"/>
<ellipse cx="286.1" cy="189.1" rx="31.0" ry="25.5" fill="url(#sg5)"/>
<ellipse cx="364.1" cy="193.4" rx="31.0" ry="25.5" fill="url(#sg6)"/>
<ellipse cx="211.0" cy="252.2" rx="35.9" ry="29.7" fill="url(#sg7)"/>
<ellipse cx="286.1" cy="250.8" rx="37.3" ry="29.7" fill="url(#sg8)"/>
<ellipse cx="364.1" cy="252.2" rx="35.9" ry="29.0" fill="url(#sg9)"/>
</g>
<g clip-path="url(#wetclip)">
<ellipse cx="528.0" cy="132.5" rx="19.2" ry="16.0" fill="url(#sg10)"/>
<ellipse cx="603.5" cy="132.5" rx="18.0" ry="15.2" fill="url(#sg11)"/>
<ellipse cx="683.5" cy="133.5" rx="17.2" ry="14.4" fill="url(#sg12)"/>
<ellipse cx="525.0" cy="192.5" rx="24.0" ry="19.2" fill="url(#sg13)"/>
<ellipse cx="605.0" cy="196.0" rx="22.0" ry="17.2" fill="url(#sg14)"/>
<ellipse cx="685.0" cy="194.5" rx="22.0" ry="20.0" fill="url(#sg15)"/>
<ellipse cx="522.5" cy="252.0" rx="15.2" ry="15.6" fill="url(#sg16)" clip-path="url(#cl17)"/>
<ellipse cx="600.6" cy="253.9" rx="18.4" ry="16.8" fill="url(#sg18)" clip-path="url(#cl19)"/>
<ellipse cx="680.5" cy="252.5" rx="18.4" ry="16.8" fill="url(#sg20)" clip-path="url(#cl21)"/>
</g>
<rect x="174.00" y="37.40" width="2.20" height="244.40" fill="#fff" />
<rect x="99.10" y="96.30" width="308.40" height="2.20" fill="#fff" />
<rect x="487.16" y="36.40" width="2.40" height="245.88" fill="#fff" />
<rect x="412.00" y="95.47" width="310.24" height="2.40" fill="#fff" />
<rect x="251.10" y="37.40" width="2.20" height="244.40" fill="#fff" />
<rect x="99.10" y="157.40" width="308.40" height="2.20" fill="#fff" />
<rect x="564.72" y="36.40" width="2.40" height="245.88" fill="#fff" />
<rect x="412.00" y="156.94" width="310.24" height="2.40" fill="#fff" />
<rect x="328.20" y="37.40" width="2.20" height="244.40" fill="#fff" />
<rect x="99.10" y="218.50" width="308.40" height="2.20" fill="#fff" />
<rect x="642.28" y="36.40" width="2.40" height="245.88" fill="#fff" />
<rect x="412.00" y="218.41" width="310.24" height="2.40" fill="#fff" />
<text transform="translate(117.50,58.10) translate(-0.70,0) scale(1.0305,1)" fill="#e4e6f6" ><tspan font-size="17.5" font-weight="normal" dy="0">0 s</tspan></text>
<text transform="translate(196.10,58.10) translate(-0.91,0) scale(1.0236,1)" fill="#e4e6f6" ><tspan font-size="17.5" font-weight="normal" dy="0">60 s</tspan></text>
<text transform="translate(270.40,58.10) translate(-1.36,0) scale(1.0185,1)" fill="#e4e6f6" ><tspan font-size="17.5" font-weight="normal" dy="0">120 s</tspan></text>
<text transform="translate(345.00,58.10) translate(-1.35,0) scale(1.0160,1)" fill="#e4e6f6" ><tspan font-size="17.5" font-weight="normal" dy="0">180 s</tspan></text>
<text transform="translate(435.60,58.10) translate(-0.70,0) scale(1.0214,1)" fill="#e4e6f6" ><tspan font-size="17.5" font-weight="normal" dy="0">0 s</tspan></text>
<text transform="translate(514.30,58.10) translate(-0.90,0) scale(1.0109,1)" fill="#e4e6f6" ><tspan font-size="17.5" font-weight="normal" dy="0">60 s</tspan></text>
<text transform="translate(588.00,58.10) translate(-1.39,0) scale(1.0405,1)" fill="#e4e6f6" ><tspan font-size="17.5" font-weight="normal" dy="0">120 s</tspan></text>
<text transform="translate(662.60,58.10) translate(-1.37,0) scale(1.0258,1)" fill="#e4e6f6" ><tspan font-size="17.5" font-weight="normal" dy="0">180 s</tspan></text>
<text transform="translate(39.00,102.50) rotate(-39.5) translate(-1.44,0)" fill="#000" ><tspan font-size="17.5" font-weight="normal" dy="0">PCL/PAN</tspan></text>
<text transform="translate(10.00,177.60) rotate(-39.5) translate(-1.44,0)" fill="#000" ><tspan font-size="17.5" font-weight="normal" dy="0">PP/PAN</tspan><tspan font-size="12.5" font-weight="normal" dy="2.5">0.8%Ce6</tspan></text>
<text transform="translate(11.50,237.50) rotate(-39.5) translate(-1.44,0)" fill="#000" ><tspan font-size="17.5" font-weight="normal" dy="0">PP/PAN</tspan><tspan font-size="12.5" font-weight="normal" dy="2.5">1.6%Ce6</tspan></text>
<text transform="translate(11.20,298.80) rotate(-39.5) translate(-1.44,0)" fill="#000" ><tspan font-size="17.5" font-weight="normal" dy="0">PP/PAN</tspan><tspan font-size="12.5" font-weight="normal" dy="2.5">3.3%Ce6</tspan></text>
<rect x="726.00" y="48.30" width="12.40" height="220.50" fill="url(#cbar)" />
<text transform="translate(722.60,46.50) translate(-0.77,0) scale(1.0179,1)" fill="#000" ><tspan font-size="17.5" font-weight="normal" dy="0">80 </tspan><tspan font-size="11" font-weight="normal" dy="-6">o</tspan><tspan font-size="17.5" font-weight="normal" dy="6">C</tspan></text>
<text transform="translate(722.60,287.00) translate(-1.38,0) scale(1.0320,1)" fill="#000" ><tspan font-size="17.5" font-weight="normal" dy="0">19 </tspan><tspan font-size="11" font-weight="normal" dy="-6">o</tspan><tspan font-size="17.5" font-weight="normal" dy="6">C</tspan></text>
<text transform="translate(400.00,328.30) translate(-1.15,0)" fill="#000" ><tspan font-size="28" font-weight="bold" dy="0">d</tspan></text>
<g clip-path="url(#dclip)">
<rect x="492.40" y="313.80" width="234.00" height="249.90" fill="url(#dbg)" />
<polygon points="512,296 582,296 608,380 622,440 570,440 536,385" fill="#c6bfb4" opacity="0.45" filter="url(#db8)"/>
<ellipse cx="549" cy="370" rx="15" ry="32" fill="#bbb3a8" opacity="0.35" filter="url(#db8)" transform="rotate(-22 549 370)"/>
<rect x="492.40" y="313.80" width="6.00" height="249.90" fill="#e4dfd8" opacity="0.7"/>
<rect x="497.00" y="432.50" width="212.00" height="60.00" fill="#ebe7e3" opacity="0.6"/>
<line x1="517.00" y1="433.10" x2="700.00" y2="433.10" stroke="#c4bfb9" stroke-width="1.0" />
<line x1="527.00" y1="449.30" x2="699.00" y2="449.30" stroke="#a19d96" stroke-width="1.0" />
<line x1="517.50" y1="433.00" x2="517.50" y2="500.00" stroke="#d6d2cc" stroke-width="1.2" />
<line x1="527.00" y1="449.00" x2="527.00" y2="492.00" stroke="#dcd8d2" stroke-width="1.0" />
<line x1="699.00" y1="433.00" x2="699.00" y2="500.00" stroke="#d6d2cc" stroke-width="1.2" />
<line x1="502.00" y1="432.00" x2="502.00" y2="510.00" stroke="#cdc9c3" stroke-width="1.5" />
<polygon points="522,490.5 693,490 694,498.8 522,498.8" fill="url(#teal)"/>
<rect x="497.00" y="498.60" width="220.00" height="26.00" fill="#dcdad7" />
<rect x="500" y="501" width="215" height="4" fill="#eeede9" opacity="0.8"/>
<rect x="500" y="509" width="215" height="3" fill="#c9cac8" opacity="0.7"/>
<rect x="519.50" y="515.80" width="193.00" height="7.60" fill="#4c7896" />
<rect x="492.40" y="511.70" width="11.40" height="52.00" fill="#3b607a" />
<rect x="717.00" y="503.00" width="9.40" height="60.70" fill="#3f6379" />
<rect x="503.80" y="523.80" width="213.20" height="27.80" fill="#ebe5dd" />
<rect x="503.80" y="545.00" width="213.20" height="6.60" fill="#e3ddd5" />
<rect x="492.40" y="551.60" width="234.00" height="12.10" fill="#355b75" />
<polygon points="699,486 722,483 726,500 717,512 708,500" fill="#d6d7d5" opacity="0.9"/>
<polygon points="510.5,435.8 517.5,434.3 606,491.5 705,435.2 710.5,440.5 621,503.0 598,503.0 510.5,441.0" fill="#cdb970"/>
<polygon points="512,436.5 517,435.5 605,492 601,499" fill="#d9c682" opacity="0.45"/>
<polyline points="510.5,441 598,503 621,503 710.5,440.5" fill="none" stroke="#a89a5c" stroke-width="0.8" opacity="0.6"/>
<ellipse cx="606" cy="504" rx="12" ry="2.2" fill="#555a50" opacity="0.6"/>
<polygon points="613,313.8 632,313.8 631,317.5 616,319" fill="#2e2620"/>
<polygon points="603.5,321 612,317.5 622,318 628,326 627,336 620,342 611,341.5 603,336" fill="#7a6448"/>
<polygon points="603.5,321 612,317.5 614.5,319 614,338 605,337.5" fill="#cdb990"/>
<polygon points="614.5,319 622,318 628,326 627,336 620,342 613.5,340" fill="#4e3e30"/>
<polygon points="606,332 612,333 611,338 605,337" fill="#8a6a40" opacity="0.8"/>
<polygon points="608.5,336.5 615.5,338.5 609.5,354.5 602.5,352" fill="#3a261c"/>
</g>
<text transform="translate(441.10,342.90) translate(-1.19,0) scale(1.0734,1)" fill="#000" ><tspan font-size="16.5" font-weight="normal" dy="0">laser</tspan></text>
<text transform="translate(394.70,451.30) translate(-1.18,0) scale(1.0813,1)" fill="#000" ><tspan font-size="16.5" font-weight="normal" dy="0">membrane</tspan></text>
<text transform="translate(421.50,488.70) translate(-0.77,0) scale(1.0921,1)" fill="#000" ><tspan font-size="16.5" font-weight="normal" dy="0">contact</tspan></text>
<text transform="translate(420.20,505.80) translate(-0.50,0) scale(1.0980,1)" fill="#000" ><tspan font-size="16.5" font-weight="normal" dy="0">surface</tspan></text>
<text transform="translate(437.00,536.20) translate(0.03,0) scale(1.0400,1)" fill="#000" ><tspan font-size="16.5" font-weight="normal" dy="0">water</tspan></text>
<text transform="translate(416.60,560.40) translate(-1.17,0) scale(1.1018,1)" fill="#000" ><tspan font-size="16.5" font-weight="normal" dy="0">balance</tspan></text>
<line x1="603.00" y1="336.80" x2="486.50" y2="336.80" stroke="#000" stroke-width="1.4" />
<polygon points="482.50,336.80 487.50,334.40 487.50,339.20" fill="#000"/>
<line x1="524.90" y1="444.90" x2="486.50" y2="444.90" stroke="#000" stroke-width="1.4" />
<polygon points="482.50,444.90 487.50,442.50 487.50,447.30" fill="#000"/>
<line x1="595.00" y1="504.40" x2="487.98" y2="493.60" stroke="#000" stroke-width="1.4" />
<polygon points="484.00,493.20 489.22,491.31 488.73,496.09" fill="#000"/>
<line x1="554.50" y1="530.50" x2="487.50" y2="530.50" stroke="#000" stroke-width="1.4" />
<polygon points="483.50,530.50 488.50,528.10 488.50,532.90" fill="#000"/>
<line x1="554.00" y1="556.70" x2="486.20" y2="556.70" stroke="#000" stroke-width="1.4" />
<polygon points="482.20,556.70 487.20,554.30 487.20,559.10" fill="#000"/>
<text transform="translate(771.90,39.00) translate(-1.85,0)" fill="#000" ><tspan font-size="28" font-weight="bold" dy="0">b</tspan></text>
<polyline points="834.30,249.63 835.75,249.04 837.21,249.11 838.66,249.53 840.11,249.33 841.57,249.37 843.02,249.20 844.47,249.09 845.93,249.66 847.38,249.72 848.83,249.05 850.29,249.38 851.74,249.11 853.20,249.74 854.65,249.37 856.10,249.15 857.56,249.55 859.01,248.96 860.46,249.00 861.92,249.72 863.37,249.72 864.82,249.29 866.28,248.97 867.73,249.43 869.18,249.56 870.64,248.29 872.09,247.52 873.54,246.94 875.00,246.81 876.45,246.81 877.90,247.07 879.36,247.16 880.81,247.25 882.27,247.13 883.72,247.36 885.17,247.66 886.63,247.07 888.08,246.72 889.53,246.07 890.99,245.87 892.44,244.63 893.89,244.74 895.35,245.35 896.80,245.17 898.25,244.85 899.71,244.86 901.16,244.68 902.61,245.10 904.07,244.76 905.52,244.90 906.97,245.20 908.43,244.98 909.88,244.75 911.34,244.80 912.79,245.10 914.24,245.05 915.70,245.52 917.15,245.36 918.60,244.92 920.06,245.26 921.51,245.47 922.96,245.15 924.42,245.01 925.87,245.02 927.32,245.26 928.78,245.20 930.23,245.13 931.68,244.90 933.14,245.10 934.59,245.19 936.04,245.10 937.50,245.47 938.95,245.45 940.41,244.89 941.86,244.65 943.31,244.96 944.77,245.07 946.22,245.20 947.67,244.87 949.13,244.42 950.58,244.54 952.03,244.67 953.49,244.35 954.94,244.82 956.39,244.53 957.85,244.11 959.30,244.37 960.75,244.41 962.21,244.51 963.66,244.23 965.12,243.83 966.57,244.65 968.02,244.04 969.48,244.05 970.93,244.03 972.38,244.18 973.84,244.15 975.29,244.43 976.74,244.43 978.20,244.57 979.65,244.91 981.10,244.27 982.56,244.55 984.01,244.89 985.46,244.67 986.92,244.72 988.37,244.86 989.82,244.90 991.28,244.77 992.73,244.74 994.18,244.78 995.64,244.87 997.09,245.18 998.55,244.97 1000.00,244.97 1001.45,244.60 1002.91,244.33 1004.36,244.34 1005.81,244.30 1007.27,244.24 1008.72,244.66 1010.17,244.14 1011.63,244.23 1013.08,244.68 1014.53,244.69 1015.99,244.65 1017.44,244.00 1018.89,244.38 1020.35,244.45 1021.80,243.98 1023.25,244.18 1024.71,244.39 1026.16,244.31 1027.62,244.00 1029.07,244.29 1030.52,244.19 1031.98,243.82 1033.43,244.03 1034.88,244.13 1036.34,243.99 1037.79,244.36 1039.24,244.05 1040.70,244.01 1042.15,244.20 1043.60,244.25 1045.06,243.59 1046.51,243.91 1047.96,244.15 1049.42,243.81 1050.87,243.63 1052.33,244.28 1053.78,244.28 1055.23,244.17 1056.69,243.70 1058.14,244.16 1059.59,243.71 1061.05,243.73 1062.50,243.84 1063.95,244.11 1065.41,243.49 1066.86,243.64 1068.31,243.87 1069.77,244.11 1071.22,243.76 1072.67,243.97 1074.13,243.82 1075.58,244.03 1077.03,243.77 1078.49,244.25 1079.94,244.05 1081.39,243.50 1082.85,243.52 1084.30,243.93 1085.76,243.42 1087.21,243.82 1088.66,243.24 1090.12,243.35 1091.57,243.57 1093.02,243.65 1094.48,243.79 1095.93,243.02 1097.38,243.66 1098.84,242.96 1100.29,242.79 1101.74,243.05 1103.20,243.33 1104.65,242.79 1106.10,242.73 1107.56,242.99 1109.01,243.19 1110.46,243.33 1111.92,243.39 1113.37,243.54 1114.83,243.19 1116.28,243.42 1117.73,243.65 1119.19,243.76 1120.64,243.33 1122.09,243.67 1123.55,243.53" fill="none" stroke="#2389e0" stroke-width="2.0" stroke-linejoin="round" stroke-linecap="round" />
<polyline points="834.30,248.95 835.75,248.96 837.21,249.69 838.66,249.67 840.11,249.05 841.57,249.13 843.02,249.19 844.47,249.49 845.93,249.24 847.38,249.24 848.83,249.26 850.29,249.61 851.74,249.39 853.20,249.42 854.65,249.14 856.10,248.92 857.56,248.96 859.01,249.29 860.46,249.37 861.92,249.52 863.37,249.71 864.82,249.72 866.28,249.36 867.73,249.48 869.18,247.69 870.64,242.91 872.09,238.86 873.54,234.65 875.00,232.22 876.45,229.69 877.90,226.74 879.36,224.20 880.81,222.45 882.27,221.15 883.72,220.51 885.17,220.02 886.63,218.53 888.08,217.81 889.53,217.45 890.99,216.90 892.44,216.62 893.89,216.19 895.35,216.14 896.80,215.21 898.25,214.82 899.71,215.16 901.16,214.44 902.61,214.24 904.07,214.22 905.52,213.92 906.97,213.72 908.43,213.13 909.88,213.25 911.34,212.74 912.79,212.90 914.24,212.29 915.70,212.14 917.15,212.36 918.60,212.13 920.06,211.70 921.51,211.72 922.96,211.78 924.42,211.85 925.87,211.63 927.32,211.18 928.78,211.48 930.23,210.73 931.68,211.11 933.14,210.44 934.59,210.80 936.04,210.18 937.50,210.43 938.95,210.64 940.41,210.68 941.86,210.61 943.31,210.71 944.77,210.98 946.22,211.11 947.67,210.91 949.13,210.60 950.58,210.91 952.03,211.35 953.49,210.60 954.94,210.54 956.39,210.25 957.85,210.71 959.30,210.11 960.75,210.54 962.21,209.92 963.66,210.09 965.12,210.00 966.57,209.32 968.02,209.82 969.48,209.36 970.93,209.06 972.38,209.53 973.84,209.53 975.29,208.94 976.74,209.29 978.20,209.01 979.65,209.55 981.10,209.24 982.56,209.37 984.01,208.92 985.46,209.38 986.92,208.63 988.37,209.36 989.82,208.75 991.28,209.30 992.73,209.08 994.18,208.59 995.64,209.10 997.09,209.04 998.55,208.59 1000.00,208.84 1001.45,209.16 1002.91,208.43 1004.36,209.16 1005.81,209.30 1007.27,209.09 1008.72,208.91 1010.17,208.85 1011.63,209.41 1013.08,209.27 1014.53,209.57 1015.99,209.27 1017.44,208.92 1018.89,208.86 1020.35,208.64 1021.80,208.68 1023.25,208.51 1024.71,208.56 1026.16,208.81 1027.62,209.08 1029.07,208.78 1030.52,209.12 1031.98,209.36 1033.43,209.13 1034.88,208.84 1036.34,209.52 1037.79,209.20 1039.24,209.42 1040.70,209.38 1042.15,209.62 1043.60,208.89 1045.06,209.41 1046.51,209.06 1047.96,209.16 1049.42,209.43 1050.87,208.92 1052.33,209.21 1053.78,209.21 1055.23,209.17 1056.69,209.01 1058.14,209.13 1059.59,208.76 1061.05,208.93 1062.50,208.61 1063.95,208.72 1065.41,208.75 1066.86,209.44 1068.31,209.27 1069.77,209.43 1071.22,209.15 1072.67,209.12 1074.13,208.98 1075.58,209.05 1077.03,209.42 1078.49,209.29 1079.94,209.20 1081.39,209.63 1082.85,209.61 1084.30,209.30 1085.76,209.53 1087.21,209.01 1088.66,209.39 1090.12,209.49 1091.57,209.41 1093.02,209.36 1094.48,209.35 1095.93,209.09 1097.38,209.12 1098.84,209.23 1100.29,208.94 1101.74,209.44 1103.20,209.02 1104.65,209.12 1106.10,209.46 1107.56,209.86 1109.01,209.94 1110.46,210.03 1111.92,210.62 1113.37,210.46 1114.83,210.52 1116.28,210.88 1117.73,211.03 1119.19,210.52 1120.64,210.96 1122.09,210.91 1123.55,210.65" fill="none" stroke="#d9d23e" stroke-width="2.0" stroke-linejoin="round" stroke-linecap="round" />
<polyline points="834.30,249.54 835.75,249.29 837.21,249.44 838.66,249.24 840.11,249.22 841.57,249.69 843.02,249.73 844.47,249.05 845.93,249.53 847.38,249.55 848.83,248.92 850.29,249.35 851.74,249.05 853.20,249.35 854.65,249.21 856.10,249.62 857.56,249.22 859.01,249.02 860.46,249.31 861.92,249.13 863.37,249.19 864.82,243.94 866.28,237.63 867.73,230.54 869.18,222.08 870.64,213.60 872.09,205.15 873.54,201.46 875.00,197.24 876.45,193.10 877.90,189.22 879.36,186.61 880.81,185.01 882.27,182.63 883.72,180.89 885.17,178.44 886.63,176.71 888.08,176.18 889.53,174.98 890.99,173.74 892.44,171.96 893.89,171.22 895.35,170.25 896.80,169.79 898.25,168.90 899.71,168.27 901.16,167.58 902.61,166.66 904.07,166.05 905.52,165.67 906.97,165.72 908.43,165.40 909.88,165.33 911.34,165.09 912.79,165.23 914.24,165.47 915.70,164.67 917.15,164.36 918.60,164.18 920.06,164.23 921.51,163.89 922.96,164.08 924.42,163.34 925.87,163.33 927.32,163.34 928.78,163.30 930.23,162.49 931.68,162.27 933.14,162.90 934.59,162.20 936.04,162.42 937.50,162.52 938.95,162.29 940.41,161.79 941.86,161.59 943.31,162.17 944.77,161.59 946.22,161.95 947.67,161.47 949.13,161.99 950.58,161.73 952.03,161.85 953.49,162.44 954.94,162.24 956.39,163.01 957.85,163.24 959.30,162.85 960.75,163.36 962.21,163.27 963.66,163.14 965.12,163.01 966.57,163.43 968.02,163.51 969.48,162.68 970.93,162.99 972.38,162.30 973.84,162.21 975.29,162.48 976.74,162.27 978.20,162.07 979.65,161.81 981.10,161.70 982.56,161.58 984.01,161.47 985.46,161.32 986.92,161.80 988.37,161.98 989.82,161.86 991.28,162.38 992.73,162.45 994.18,162.01 995.64,162.51 997.09,162.60 998.55,163.17 1000.00,162.97 1001.45,162.99 1002.91,163.61 1004.36,163.27 1005.81,163.42 1007.27,164.04 1008.72,163.73 1010.17,163.97 1011.63,163.90 1013.08,164.28 1014.53,164.09 1015.99,164.17 1017.44,164.86 1018.89,164.94 1020.35,164.53 1021.80,164.40 1023.25,165.09 1024.71,165.03 1026.16,164.97 1027.62,165.25 1029.07,165.27 1030.52,165.37 1031.98,165.38 1033.43,165.25 1034.88,165.54 1036.34,165.54 1037.79,165.26 1039.24,165.86 1040.70,165.40 1042.15,165.25 1043.60,165.58 1045.06,165.64 1046.51,165.14 1047.96,165.59 1049.42,165.61 1050.87,165.39 1052.33,165.16 1053.78,165.62 1055.23,165.40 1056.69,165.36 1058.14,164.92 1059.59,165.21 1061.05,164.83 1062.50,165.37 1063.95,165.19 1065.41,164.90 1066.86,164.68 1068.31,165.05 1069.77,165.25 1071.22,165.36 1072.67,165.04 1074.13,165.33 1075.58,164.84 1077.03,164.83 1078.49,165.39 1079.94,165.33 1081.39,164.91 1082.85,165.14 1084.30,165.10 1085.76,165.58 1087.21,165.86 1088.66,165.83 1090.12,165.51 1091.57,166.04 1093.02,166.08 1094.48,166.12 1095.93,166.22 1097.38,166.45 1098.84,166.26 1100.29,167.13 1101.74,167.48 1103.20,166.94 1104.65,166.90 1106.10,166.71 1107.56,167.08 1109.01,166.56 1110.46,166.48 1111.92,166.97 1113.37,166.44 1114.83,166.39 1116.28,166.55 1117.73,166.69 1119.19,166.91 1120.64,166.89 1122.09,167.00 1123.55,167.15" fill="none" stroke="#2fb53a" stroke-width="2.0" stroke-linejoin="round" stroke-linecap="round" />
<polyline points="834.30,249.55 835.75,249.66 837.21,249.41 838.66,249.61 840.11,249.69 841.57,249.41 843.02,248.98 844.47,249.08 845.93,249.11 847.38,249.56 848.83,249.30 850.29,249.51 851.74,249.60 853.20,249.65 854.65,249.56 856.10,248.98 857.56,249.06 859.01,249.07 860.46,249.08 861.92,245.94 863.37,238.55 864.82,230.66 866.28,219.88 867.73,209.08 869.18,200.70 870.64,196.50 872.09,191.22 873.54,186.41 875.00,182.65 876.45,179.02 877.90,174.87 879.36,172.78 880.81,170.04 882.27,168.06 883.72,166.28 885.17,164.44 886.63,162.12 888.08,161.11 889.53,159.57 890.99,158.30 892.44,157.29 893.89,156.08 895.35,154.73 896.80,153.69 898.25,152.73 899.71,152.28 901.16,151.52 902.61,151.82 904.07,151.48 905.52,150.62 906.97,150.10 908.43,149.10 909.88,148.35 911.34,147.77 912.79,146.55 914.24,146.53 915.70,145.67 917.15,145.37 918.60,144.84 920.06,144.97 921.51,144.73 922.96,144.24 924.42,144.43 925.87,144.06 927.32,143.61 928.78,144.10 930.23,144.15 931.68,144.15 933.14,143.84 934.59,144.10 936.04,145.04 937.50,145.59 938.95,146.25 940.41,145.69 941.86,145.72 943.31,144.85 944.77,144.37 946.22,144.06 947.67,143.97 949.13,143.53 950.58,144.04 952.03,143.55 953.49,142.73 954.94,142.67 956.39,143.18 957.85,142.95 959.30,143.42 960.75,143.46 962.21,144.10 963.66,144.39 965.12,144.39 966.57,144.85 968.02,144.75 969.48,144.12 970.93,144.49 972.38,144.60 973.84,144.42 975.29,144.17 976.74,143.52 978.20,143.71 979.65,143.62 981.10,143.73 982.56,143.05 984.01,143.56 985.46,143.79 986.92,143.97 988.37,144.02 989.82,143.98 991.28,143.61 992.73,144.09 994.18,144.23 995.64,143.91 997.09,144.16 998.55,143.59 1000.00,144.52 1001.45,144.76 1002.91,145.13 1004.36,146.01 1005.81,146.11 1007.27,146.07 1008.72,145.82 1010.17,145.22 1011.63,145.08 1013.08,144.78 1014.53,144.94 1015.99,144.43 1017.44,144.49 1018.89,144.79 1020.35,145.19 1021.80,145.03 1023.25,145.05 1024.71,145.10 1026.16,145.03 1027.62,144.44 1029.07,144.99 1030.52,145.01 1031.98,144.23 1033.43,144.48 1034.88,144.62 1036.34,145.60 1037.79,145.68 1039.24,146.38 1040.70,145.86 1042.15,145.48 1043.60,145.28 1045.06,145.20 1046.51,145.06 1047.96,144.48 1049.42,144.43 1050.87,144.38 1052.33,144.83 1053.78,144.61 1055.23,144.53 1056.69,144.70 1058.14,144.60 1059.59,145.11 1061.05,145.28 1062.50,145.53 1063.95,146.70 1065.41,146.99 1066.86,147.51 1068.31,147.69 1069.77,146.40 1071.22,145.85 1072.67,145.55 1074.13,146.06 1075.58,145.36 1077.03,145.99 1078.49,145.30 1079.94,145.55 1081.39,146.05 1082.85,146.23 1084.30,146.11 1085.76,146.43 1087.21,146.55 1088.66,146.67 1090.12,147.52 1091.57,147.97 1093.02,147.17 1094.48,147.67 1095.93,146.70 1097.38,147.08 1098.84,146.26 1100.29,146.03 1101.74,145.70 1103.20,146.08 1104.65,145.92 1106.10,146.59 1107.56,146.31 1109.01,146.70 1110.46,146.35 1111.92,146.47 1113.37,146.73 1114.83,146.71 1116.28,147.14 1117.73,147.15 1119.19,146.70 1120.64,146.81 1122.09,146.51 1123.55,146.74" fill="none" stroke="#e21f2f" stroke-width="2.0" stroke-linejoin="round" stroke-linecap="round" />
<rect x="834.30" y="36.10" width="290.70" height="222.80" fill="none" stroke="#000" stroke-width="1.5"/>
<line x1="834.30" y1="258.90" x2="834.30" y2="263.40" stroke="#000" stroke-width="1.5" />
<line x1="906.97" y1="258.90" x2="906.97" y2="263.40" stroke="#000" stroke-width="1.5" />
<line x1="979.65" y1="258.90" x2="979.65" y2="263.40" stroke="#000" stroke-width="1.5" />
<line x1="1052.33" y1="258.90" x2="1052.33" y2="263.40" stroke="#000" stroke-width="1.5" />
<line x1="1125.00" y1="258.90" x2="1125.00" y2="263.40" stroke="#000" stroke-width="1.5" />
<line x1="870.64" y1="258.90" x2="870.64" y2="261.40" stroke="#000" stroke-width="1.5" />
<line x1="943.31" y1="258.90" x2="943.31" y2="261.40" stroke="#000" stroke-width="1.5" />
<line x1="1015.99" y1="258.90" x2="1015.99" y2="261.40" stroke="#000" stroke-width="1.5" />
<line x1="1088.66" y1="258.90" x2="1088.66" y2="261.40" stroke="#000" stroke-width="1.5" />
<line x1="834.30" y1="234.14" x2="829.80" y2="234.14" stroke="#000" stroke-width="1.5" />
<line x1="834.30" y1="184.63" x2="829.80" y2="184.63" stroke="#000" stroke-width="1.5" />
<line x1="834.30" y1="135.12" x2="829.80" y2="135.12" stroke="#000" stroke-width="1.5" />
<line x1="834.30" y1="85.61" x2="829.80" y2="85.61" stroke="#000" stroke-width="1.5" />
<line x1="834.30" y1="36.10" x2="829.80" y2="36.10" stroke="#000" stroke-width="1.5" />
<line x1="834.30" y1="258.90" x2="831.80" y2="258.90" stroke="#000" stroke-width="1.5" />
<line x1="834.30" y1="209.39" x2="831.80" y2="209.39" stroke="#000" stroke-width="1.5" />
<line x1="834.30" y1="159.88" x2="831.80" y2="159.88" stroke="#000" stroke-width="1.5" />
<line x1="834.30" y1="110.37" x2="831.80" y2="110.37" stroke="#000" stroke-width="1.5" />
<line x1="834.30" y1="60.86" x2="831.80" y2="60.86" stroke="#000" stroke-width="1.5" />
<text transform="translate(834.30,280.79) translate(-4.87,0)" fill="#000" ><tspan font-size="17.5" font-weight="normal" dy="0">0</tspan></text>
<text transform="translate(906.97,280.79) translate(-9.74,0)" fill="#000" ><tspan font-size="17.5" font-weight="normal" dy="0">50</tspan></text>
<text transform="translate(979.65,280.79) translate(-14.92,0)" fill="#000" ><tspan font-size="17.5" font-weight="normal" dy="0">100</tspan></text>
<text transform="translate(1052.33,280.79) translate(-14.92,0)" fill="#000" ><tspan font-size="17.5" font-weight="normal" dy="0">150</tspan></text>
<text transform="translate(1125.00,280.79) translate(-14.70,0)" fill="#000" ><tspan font-size="17.5" font-weight="normal" dy="0">200</tspan></text>
<text transform="translate(826.00,239.34) translate(-18.78,0)" fill="#000" ><tspan font-size="17.5" font-weight="normal" dy="0">30</tspan></text>
<text transform="translate(826.00,189.83) translate(-18.78,0)" fill="#000" ><tspan font-size="17.5" font-weight="normal" dy="0">60</tspan></text>
<text transform="translate(826.00,140.32) translate(-18.78,0)" fill="#000" ><tspan font-size="17.5" font-weight="normal" dy="0">90</tspan></text>
<text transform="translate(826.00,90.81) translate(-28.51,0)" fill="#000" ><tspan font-size="17.5" font-weight="normal" dy="0">120</tspan></text>
<text transform="translate(826.00,41.29) translate(-28.51,0)" fill="#000" ><tspan font-size="17.5" font-weight="normal" dy="0">150</tspan></text>
<text transform="translate(979.60,303.20) translate(-38.32,0) scale(1.0065,1)" fill="#000" ><tspan font-size="21" font-weight="normal" dy="0">Time (s)</tspan></text>
<text transform="translate(791.00,145.00) rotate(-90) translate(-79.96,0) scale(0.9825,1)" fill="#000" ><tspan font-size="21" font-weight="normal" dy="0">Temperature (°C)</tspan></text>
<text transform="translate(845.50,58.10) translate(-1.47,0) scale(1.0521,1)" fill="#000" ><tspan font-size="17" font-weight="normal" dy="0">Dry state</tspan></text>
<line x1="975.70" y1="52.90" x2="1008.80" y2="52.90" stroke="#e21f2f" stroke-width="2.0" />
<text transform="translate(1013.80,57.90) translate(-1.22,0) scale(1.0656,1)" fill="#000" ><tspan font-size="14" font-weight="normal" dy="0">PCL/PAN</tspan></text>
<text transform="translate(1076.20,61.70) translate(-0.38,0) scale(1.0503,1)" fill="#000" ><tspan font-size="9.5" font-weight="normal" dy="0">3.3% Ce6</tspan></text>
<line x1="975.70" y1="74.10" x2="1008.80" y2="74.10" stroke="#2fb53a" stroke-width="2.0" />
<text transform="translate(1013.80,79.10) translate(-1.22,0) scale(1.0656,1)" fill="#000" ><tspan font-size="14" font-weight="normal" dy="0">PCL/PAN</tspan></text>
<text transform="translate(1076.20,82.90) translate(-0.77,0) scale(1.0597,1)" fill="#000" ><tspan font-size="9.5" font-weight="normal" dy="0">1.6% Ce6</tspan></text>
<line x1="975.70" y1="95.30" x2="1008.80" y2="95.30" stroke="#d9d23e" stroke-width="2.0" />
<text transform="translate(1013.80,100.30) translate(-1.22,0) scale(1.0656,1)" fill="#000" ><tspan font-size="14" font-weight="normal" dy="0">PCL/PAN</tspan></text>
<text transform="translate(1076.20,104.10) translate(-0.39,0) scale(1.0505,1)" fill="#000" ><tspan font-size="9.5" font-weight="normal" dy="0">0.8% Ce6</tspan></text>
<line x1="975.70" y1="116.50" x2="1008.80" y2="116.50" stroke="#2389e0" stroke-width="2.0" />
<text transform="translate(1013.80,121.50) translate(-1.22,0) scale(1.0656,1)" fill="#000" ><tspan font-size="14" font-weight="normal" dy="0">PCL/PAN</tspan></text>
<text transform="translate(9.70,328.50) translate(-1.09,0)" fill="#000" ><tspan font-size="28" font-weight="bold" dy="0">c</tspan></text>
<polyline points="80.75,532.30 81.72,532.15 82.69,531.64 83.65,532.28 84.62,532.22 85.59,532.11 86.56,532.67 87.53,532.21 88.50,532.05 89.46,531.82 90.43,532.79 91.40,532.50 92.37,532.80 93.34,531.80 94.30,531.96 95.27,532.86 96.24,531.56 97.21,531.59 98.18,532.02 99.15,532.07 100.11,532.70 101.08,532.90 102.05,532.19 103.02,532.84 103.99,532.66 104.95,532.59 105.92,532.88 106.89,532.28 107.86,532.31 108.83,531.76 109.80,532.20 110.76,532.04 111.73,532.23 112.70,532.00 113.67,532.29 114.64,532.54 115.60,531.54 116.57,531.54 117.54,531.76 118.51,531.94 119.48,532.49 120.44,532.60 121.41,532.52 122.38,532.83 123.35,531.86 124.32,532.37 125.29,531.75 126.25,532.39 127.22,531.60 128.19,531.75 129.16,532.92 130.13,532.63 131.09,531.66 132.06,532.27 133.03,531.56 134.00,532.37 134.97,532.82 135.94,532.05 136.90,531.84 137.87,532.55 138.84,532.80 139.81,532.46 140.78,531.59 141.74,531.87 142.71,532.76 143.68,532.58 144.65,532.78 145.62,532.84 146.59,531.82 147.55,532.68 148.52,532.15 149.49,532.30 150.46,532.66 151.43,531.91 152.39,532.74 153.36,532.03 154.33,532.76 155.30,532.34 156.27,532.63 157.24,532.55 158.20,531.58 159.17,531.81 160.14,532.50 161.11,531.70 162.08,532.63 163.04,532.38 164.01,531.74 164.98,532.03 165.95,532.78 166.92,531.55 167.88,532.63 168.85,532.57 169.82,531.85 170.79,532.47 171.76,532.51 172.73,532.82 173.69,532.80 174.66,532.12 175.63,532.59 176.60,532.09 177.57,532.41 178.53,532.29 179.50,531.59 180.47,532.25 181.44,532.13 182.41,531.72 183.38,532.67 184.34,532.71 185.31,531.66 186.28,531.79 187.25,532.58 188.22,532.66 189.18,531.90 190.15,531.62 191.12,532.65 192.09,531.61 193.06,531.70 194.03,532.09 194.99,532.34 195.96,532.78 196.93,532.87 197.90,531.59 198.87,532.59 199.83,531.95 200.80,532.57 201.77,531.78 202.74,532.10 203.71,532.52 204.68,532.68 205.64,531.92 206.61,532.83 207.58,532.61 208.55,532.15 209.52,531.74 210.48,532.07 211.45,532.53 212.42,531.65 213.39,532.64 214.36,532.90 215.33,532.55 216.29,532.31 217.26,532.84 218.23,532.68 219.20,532.41 220.17,532.13 221.13,532.74 222.10,532.42 223.07,531.69 224.04,531.56 225.01,532.01 225.97,531.96 226.94,532.11 227.91,532.73 228.88,532.87 229.85,532.90 230.82,531.66 231.78,531.95 232.75,531.59 233.72,532.89 234.69,532.04 235.66,532.25 236.62,531.91 237.59,532.48 238.56,531.54 239.53,532.82 240.50,532.17 241.47,531.90 242.43,531.68 243.40,531.90 244.37,531.95 245.34,531.82 246.31,531.65 247.27,532.44 248.24,531.97 249.21,531.67 250.18,531.72 251.15,532.34 252.12,531.83 253.08,531.73 254.05,532.13 255.02,532.06 255.99,532.39 256.96,532.12 257.92,532.08 258.89,532.81 259.86,532.04 260.83,531.55 261.80,531.70 262.77,531.91 263.73,532.38 264.70,531.90 265.67,532.12 266.64,532.31 267.61,531.76 268.57,532.81 269.54,531.88 270.51,532.88 271.48,532.09 272.45,532.26 273.42,532.60 274.38,531.96 275.35,532.23 276.32,532.07 277.29,531.65 278.26,532.57 279.22,532.91 280.19,532.51 281.16,531.98 282.13,532.64 283.10,532.69 284.06,531.67 285.03,532.01 286.00,532.31 286.97,531.69 287.94,532.47 288.91,532.00 289.87,532.65 290.84,532.33 291.81,531.81 292.78,531.66 293.75,531.70 294.71,532.39 295.68,532.11 296.65,532.48 297.62,532.73 298.59,532.23 299.56,531.76 300.52,531.75 301.49,531.94 302.46,531.61 303.43,532.54 304.40,532.69 305.36,532.30 306.33,532.54 307.30,532.63 308.27,532.35 309.24,532.06 310.21,532.24 311.17,532.49 312.14,531.76 313.11,531.56 314.08,532.30 315.05,532.82 316.01,532.88 316.98,531.71 317.95,532.87 318.92,531.94 319.89,532.13 320.86,532.49 321.82,531.83 322.79,532.90 323.76,532.73 324.73,532.29 325.70,532.89 326.66,531.77 327.63,532.59 328.60,532.73 329.57,532.86 330.54,532.05 331.51,532.30 332.47,532.05 333.44,532.02 334.41,531.80 335.38,531.59 336.35,531.97 337.31,532.65 338.28,532.26 339.25,532.68 340.22,532.91 341.19,532.27 342.15,531.93 343.12,532.67 344.09,532.55 345.06,532.44 346.03,531.96 347.00,532.20 347.96,532.07 348.93,531.87 349.90,532.38 350.87,531.83 351.84,531.67 352.80,532.80 353.77,531.63 354.74,531.92 355.71,532.74 356.68,532.29 357.65,532.06 358.61,531.66 359.58,532.40 360.55,532.13 361.52,531.70 362.49,531.82 363.45,531.61 364.42,532.28 365.39,532.02 366.36,532.64 367.33,531.92 368.30,531.79 369.26,532.03" fill="none" stroke="#2389e0" stroke-width="2.0" stroke-linejoin="round" stroke-linecap="round" />
<polyline points="80.75,531.80 81.72,531.60 82.69,531.59 83.65,532.15 84.62,532.30 85.59,531.90 86.56,532.01 87.53,531.43 88.50,528.38 89.46,523.70 90.43,519.08 91.40,514.35 92.37,511.36 93.34,509.66 94.30,508.74 95.27,507.07 96.24,507.11 97.21,505.57 98.18,505.97 99.15,504.91 100.11,504.88 101.08,504.40 102.05,503.52 103.02,504.28 103.99,504.10 104.95,503.04 105.92,503.34 106.89,503.66 107.86,502.55 108.83,502.46 109.80,503.22 110.76,502.75 111.73,502.93 112.70,502.60 113.67,502.32 114.64,502.95 115.60,502.51 116.57,503.35 117.54,503.36 118.51,502.80 119.48,503.39 120.44,503.50 121.41,503.45 122.38,503.72 123.35,503.94 124.32,504.43 125.29,503.78 126.25,503.63 127.22,503.73 128.19,504.17 129.16,504.61 130.13,504.71 131.09,504.47 132.06,504.59 133.03,505.35 134.00,505.40 134.97,505.44 135.94,505.46 136.90,505.31 137.87,505.82 138.84,506.51 139.81,505.83 140.78,506.43 141.74,506.52 142.71,507.01 143.68,506.97 144.65,507.19 145.62,506.69 146.59,507.19 147.55,506.49 148.52,506.67 149.49,505.89 150.46,506.38 151.43,505.90 152.39,505.66 153.36,505.20 154.33,505.68 155.30,505.10 156.27,505.22 157.24,505.00 158.20,504.70 159.17,504.23 160.14,504.79 161.11,504.32 162.08,505.22 163.04,504.45 164.01,505.10 164.98,505.33 165.95,504.77 166.92,504.64 167.88,505.66 168.85,505.42 169.82,504.93 170.79,505.44 171.76,505.57 172.73,505.84 173.69,505.83 174.66,505.22 175.63,504.84 176.60,504.85 177.57,505.40 178.53,505.93 179.50,505.63 180.47,505.15 181.44,505.12 182.41,505.35 183.38,505.81 184.34,505.50 185.31,505.58 186.28,505.43 187.25,505.84 188.22,505.07 189.18,505.09 190.15,505.84 191.12,505.67 192.09,505.00 193.06,505.61 194.03,504.85 194.99,505.28 195.96,505.04 196.93,505.00 197.90,505.49 198.87,505.38 199.83,505.37 200.80,504.87 201.77,504.82 202.74,505.39 203.71,504.56 204.68,505.09 205.64,505.32 206.61,505.13 207.58,504.58 208.55,505.06 209.52,505.01 210.48,504.72 211.45,504.70 212.42,504.95 213.39,505.35 214.36,505.19 215.33,504.88 216.29,505.03 217.26,505.28 218.23,505.56 219.20,505.57 220.17,505.17 221.13,505.35 222.10,505.93 223.07,505.17 224.04,504.96 225.01,505.06 225.97,504.94 226.94,504.92 227.91,505.32 228.88,505.03 229.85,505.47 230.82,505.76 231.78,505.48 232.75,505.51 233.72,504.83 234.69,505.09 235.66,505.24 236.62,505.13 237.59,505.65 238.56,505.20 239.53,505.00 240.50,505.32 241.47,505.46 242.43,505.27 243.40,505.35 244.37,504.94 245.34,505.51 246.31,505.55 247.27,505.30 248.24,504.87 249.21,504.78 250.18,504.88 251.15,504.56 252.12,505.16 253.08,505.51 254.05,505.00 255.02,505.03 255.99,505.34 256.96,504.84 257.92,505.21 258.89,505.35 259.86,505.27 260.83,504.63 261.80,505.66 262.77,505.31 263.73,505.42 264.70,505.52 265.67,505.30 266.64,505.55 267.61,504.82 268.57,505.29 269.54,505.10 270.51,505.71 271.48,505.40 272.45,505.27 273.42,505.04 274.38,505.70 275.35,505.48 276.32,505.05 277.29,505.08 278.26,505.73 279.22,505.39 280.19,505.15 281.16,505.55 282.13,505.25 283.10,505.26 284.06,504.92 285.03,505.38 286.00,505.24 286.97,505.60 287.94,505.18 288.91,505.63 289.87,505.43 290.84,505.58 291.81,505.64 292.78,505.83 293.75,505.73 294.71,505.39 295.68,505.70 296.65,505.92 297.62,505.11 298.59,505.67 299.56,504.96 300.52,505.34 301.49,505.58 302.46,505.09 303.43,505.08 304.40,505.73 305.36,505.96 306.33,505.43 307.30,505.23 308.27,505.51 309.24,505.34 310.21,505.77 311.17,505.57 312.14,505.97 313.11,505.84 314.08,505.89 315.05,505.91 316.01,505.92 316.98,505.50 317.95,506.21 318.92,506.20 319.89,506.17 320.86,505.42 321.82,505.93 322.79,506.45 323.76,505.63 324.73,505.62 325.70,505.70 326.66,506.21 327.63,505.82 328.60,506.30 329.57,506.50 330.54,505.73 331.51,505.78 332.47,506.46 333.44,505.76 334.41,506.70 335.38,506.41 336.35,506.74 337.31,506.58 338.28,506.61 339.25,506.03 340.22,506.50 341.19,506.63 342.15,506.65 343.12,506.52 344.09,505.95 345.06,506.24 346.03,506.79 347.00,506.17 347.96,506.34 348.93,506.44 349.90,506.36 350.87,506.23 351.84,506.07 352.80,506.40 353.77,506.26 354.74,506.45 355.71,506.28 356.68,506.55 357.65,506.53 358.61,506.42 359.58,506.22 360.55,506.69 361.52,506.00 362.49,506.47 363.45,506.09 364.42,506.27 365.39,505.99 366.36,506.29 367.33,506.57 368.30,506.60 369.26,506.39" fill="none" stroke="#96c83a" stroke-width="2.0" stroke-linejoin="round" stroke-linecap="round" />
<polyline points="80.75,532.03 81.72,531.57 82.69,531.57 83.65,531.39 84.62,532.11 85.59,532.06 86.56,532.15 87.53,528.37 88.50,516.73 89.46,506.29 90.43,497.77 91.40,491.51 92.37,486.53 93.34,484.92 94.30,483.50 95.27,483.72 96.24,484.34 97.21,484.03 98.18,484.15 99.15,483.34 100.11,483.39 101.08,483.48 102.05,483.55 103.02,483.72 103.99,483.59 104.95,483.85 105.92,484.52 106.89,483.97 107.86,484.45 108.83,484.25 109.80,484.55 110.76,484.78 111.73,484.95 112.70,484.97 113.67,485.20 114.64,485.50 115.60,484.84 116.57,484.96 117.54,484.85 118.51,485.27 119.48,485.51 120.44,485.45 121.41,486.27 122.38,485.84 123.35,486.25 124.32,486.69 125.29,486.81 126.25,486.62 127.22,487.07 128.19,487.00 129.16,486.99 130.13,487.37 131.09,487.81 132.06,487.58 133.03,488.01 134.00,488.16 134.97,488.36 135.94,488.33 136.90,488.80 137.87,488.33 138.84,488.16 139.81,488.74 140.78,488.37 141.74,488.11 142.71,489.05 143.68,488.92 144.65,488.18 145.62,488.12 146.59,488.31 147.55,488.81 148.52,488.51 149.49,488.00 150.46,487.95 151.43,488.02 152.39,488.71 153.36,488.09 154.33,488.69 155.30,488.40 156.27,489.11 157.24,488.29 158.20,488.77 159.17,488.72 160.14,489.35 161.11,489.00 162.08,489.12 163.04,489.18 164.01,489.52 164.98,489.16 165.95,489.56 166.92,489.58 167.88,489.70 168.85,489.12 169.82,489.71 170.79,489.57 171.76,489.71 172.73,489.07 173.69,489.14 174.66,489.13 175.63,489.65 176.60,489.20 177.57,489.28 178.53,489.58 179.50,489.72 180.47,488.68 181.44,489.66 182.41,489.50 183.38,489.57 184.34,489.25 185.31,489.84 186.28,489.45 187.25,489.60 188.22,489.13 189.18,490.06 190.15,489.74 191.12,489.62 192.09,489.18 193.06,489.74 194.03,489.86 194.99,489.72 195.96,490.19 196.93,490.54 197.90,490.11 198.87,489.74 199.83,489.99 200.80,490.58 201.77,490.11 202.74,489.88 203.71,490.47 204.68,490.06 205.64,490.26 206.61,490.33 207.58,490.23 208.55,490.27 209.52,490.06 210.48,490.36 211.45,489.94 212.42,490.25 213.39,489.49 214.36,489.64 215.33,490.25 216.29,489.39 217.26,489.99 218.23,489.65 219.20,489.54 220.17,489.76 221.13,489.82 222.10,489.68 223.07,490.02 224.04,489.26 225.01,490.09 225.97,489.34 226.94,490.01 227.91,489.94 228.88,489.87 229.85,490.27 230.82,490.19 231.78,489.95 232.75,489.89 233.72,489.44 234.69,489.33 235.66,490.37 236.62,489.75 237.59,490.09 238.56,489.28 239.53,489.70 240.50,488.99 241.47,489.28 242.43,489.64 243.40,489.67 244.37,489.32 245.34,488.56 246.31,489.24 247.27,488.79 248.24,488.82 249.21,488.84 250.18,488.38 251.15,489.05 252.12,488.54 253.08,488.63 254.05,488.38 255.02,488.86 255.99,488.46 256.96,489.01 257.92,488.90 258.89,488.89 259.86,488.69 260.83,488.66 261.80,489.50 262.77,489.40 263.73,488.89 264.70,488.52 265.67,488.74 266.64,488.92 267.61,488.12 268.57,488.76 269.54,488.91 270.51,488.87 271.48,488.82 272.45,487.99 273.42,488.58 274.38,487.85 275.35,487.61 276.32,487.39 277.29,487.52 278.26,487.86 279.22,487.57 280.19,487.26 281.16,487.30 282.13,487.65 283.10,487.03 284.06,487.62 285.03,487.29 286.00,486.44 286.97,486.90 287.94,487.00 288.91,486.34 289.87,486.59 290.84,486.96 291.81,486.82 292.78,486.46 293.75,486.27 294.71,485.50 295.68,486.14 296.65,485.38 297.62,485.26 298.59,485.82 299.56,485.67 300.52,486.40 301.49,487.17 302.46,487.74 303.43,486.88 304.40,485.75 305.36,485.50 306.33,485.22 307.30,484.38 308.27,483.62 309.24,483.28 310.21,482.22 311.17,482.16 312.14,480.66 313.11,480.86 314.08,480.64 315.05,479.83 316.01,479.83 316.98,478.92 317.95,479.04 318.92,478.72 319.89,478.09 320.86,478.46 321.82,477.59 322.79,477.40 323.76,477.29 324.73,476.38 325.70,477.05 326.66,475.80 327.63,476.23 328.60,475.14 329.57,475.53 330.54,475.30 331.51,474.47 332.47,473.72 333.44,474.19 334.41,473.68 335.38,473.30 336.35,473.44 337.31,472.87 338.28,473.18 339.25,472.45 340.22,471.88 341.19,472.10 342.15,472.00 343.12,471.94 344.09,471.01 345.06,471.07 346.03,470.31 347.00,470.26 347.96,470.72 348.93,469.66 349.90,469.46 350.87,469.40 351.84,469.19 352.80,469.17 353.77,468.94 354.74,468.82 355.71,468.72 356.68,468.89 357.65,468.84 358.61,468.01 359.58,467.94 360.55,468.31 361.52,467.47 362.49,467.29 363.45,467.19 364.42,466.69 365.39,466.37 366.36,467.24 367.33,467.10 368.30,467.77 369.26,468.02" fill="none" stroke="#d6d03a" stroke-width="2.0" stroke-linejoin="round" stroke-linecap="round" />
<polyline points="80.75,532.49 81.72,531.39 82.69,531.49 83.65,530.95 84.62,532.19 85.59,532.22 86.56,531.34 87.53,516.23 88.50,496.87 89.46,480.61 90.43,474.67 91.40,472.66 92.37,472.57 93.34,471.91 94.30,470.20 95.27,470.74 96.24,471.03 97.21,470.42 98.18,471.13 99.15,472.42 100.11,472.08 101.08,472.13 102.05,473.31 103.02,472.67 103.99,473.91 104.95,473.77 105.92,474.54 106.89,474.63 107.86,473.52 108.83,474.89 109.80,474.13 110.76,475.17 111.73,474.81 112.70,474.27 113.67,474.57 114.64,475.59 115.60,474.66 116.57,474.56 117.54,475.44 118.51,475.64 119.48,474.25 120.44,474.96 121.41,475.60 122.38,475.17 123.35,475.60 124.32,474.49 125.29,475.01 126.25,475.72 127.22,474.36 128.19,475.68 129.16,475.29 130.13,475.73 131.09,474.38 132.06,475.51 133.03,473.98 134.00,473.80 134.97,472.09 135.94,470.61 136.90,469.54 137.87,468.34 138.84,466.97 139.81,465.95 140.78,464.54 141.74,464.36 142.71,462.55 143.68,461.88 144.65,459.56 145.62,458.27 146.59,458.73 147.55,457.43 148.52,455.71 149.49,456.21 150.46,457.49 151.43,456.02 152.39,454.45 153.36,454.29 154.33,453.77 155.30,452.70 156.27,451.36 157.24,451.95 158.20,451.31 159.17,451.15 160.14,449.96 161.11,449.88 162.08,449.90 163.04,449.28 164.01,449.50 164.98,448.56 165.95,446.89 166.92,447.19 167.88,447.53 168.85,446.49 169.82,447.73 170.79,448.10 171.76,448.68 172.73,448.65 173.69,448.46 174.66,448.31 175.63,447.03 176.60,448.06 177.57,447.99 178.53,446.59 179.50,445.26 180.47,446.01 181.44,445.41 182.41,446.42 183.38,446.34 184.34,445.20 185.31,443.48 186.28,442.74 187.25,442.12 188.22,440.61 189.18,440.58 190.15,439.64 191.12,437.67 192.09,437.54 193.06,436.21 194.03,436.16 194.99,434.32 195.96,434.53 196.93,434.85 197.90,433.23 198.87,433.74 199.83,433.62 200.80,433.42 201.77,433.39 202.74,432.87 203.71,431.63 204.68,432.31 205.64,431.76 206.61,431.33 207.58,431.19 208.55,431.53 209.52,430.82 210.48,431.66 211.45,431.22 212.42,430.88 213.39,431.20 214.36,430.50 215.33,429.96 216.29,428.22 217.26,428.61 218.23,426.97 219.20,427.10 220.17,425.62 221.13,424.91 222.10,424.98 223.07,423.81 224.04,424.23 225.01,424.32 225.97,425.18 226.94,424.42 227.91,424.59 228.88,424.12 229.85,423.17 230.82,423.34 231.78,424.88 232.75,423.78 233.72,423.36 234.69,424.14 235.66,425.01 236.62,423.64 237.59,424.50 238.56,423.53 239.53,423.69 240.50,423.69 241.47,423.43 242.43,424.95 243.40,423.53 244.37,424.35 245.34,424.59 246.31,424.06 247.27,423.60 248.24,424.60 249.21,423.73 250.18,423.07 251.15,423.56 252.12,423.46 253.08,423.85 254.05,422.57 255.02,423.87 255.99,423.03 256.96,423.05 257.92,424.21 258.89,422.33 259.86,423.69 260.83,422.32 261.80,422.46 262.77,422.55 263.73,422.66 264.70,423.54 265.67,423.48 266.64,423.70 267.61,422.64 268.57,424.34 269.54,424.18 270.51,422.69 271.48,423.00 272.45,423.22 273.42,422.76 274.38,423.62 275.35,423.12 276.32,423.93 277.29,423.16 278.26,424.78 279.22,424.18 280.19,424.00 281.16,423.68 282.13,424.45 283.10,424.05 284.06,423.60 285.03,424.70 286.00,425.19 286.97,425.58 287.94,424.08 288.91,424.80 289.87,424.98 290.84,424.74 291.81,425.49 292.78,425.32 293.75,425.30 294.71,425.28 295.68,424.17 296.65,425.32 297.62,425.62 298.59,424.20 299.56,424.78 300.52,425.79 301.49,424.67 302.46,424.73 303.43,424.88 304.40,424.73 305.36,425.46 306.33,425.90 307.30,425.02 308.27,425.32 309.24,425.26 310.21,426.30 311.17,426.02 312.14,425.51 313.11,426.15 314.08,425.82 315.05,426.13 316.01,425.69 316.98,426.51 317.95,426.31 318.92,425.78 319.89,426.77 320.86,426.99 321.82,426.10 322.79,426.99 323.76,425.62 324.73,426.66 325.70,425.47 326.66,426.12 327.63,426.78 328.60,426.07 329.57,425.74 330.54,426.06 331.51,425.75 332.47,426.21 333.44,425.18 334.41,426.69 335.38,425.59 336.35,427.08 337.31,426.25 338.28,427.12 339.25,427.05 340.22,426.27 341.19,425.74 342.15,426.90 343.12,426.78 344.09,426.71 345.06,426.53 346.03,427.03 347.00,427.05 347.96,426.15 348.93,426.72 349.90,427.12 350.87,426.28 351.84,425.97 352.80,427.04 353.77,427.84 354.74,427.32 355.71,426.25 356.68,427.62 357.65,427.59 358.61,426.52 359.58,427.81 360.55,426.49 361.52,427.68 362.49,427.42 363.45,427.08 364.42,428.01 365.39,426.82 366.36,427.48 367.33,426.91 368.30,426.96 369.26,428.27" fill="none" stroke="#e21f2f" stroke-width="2.0" stroke-linejoin="round" stroke-linecap="round" />
<rect x="80.75" y="325.10" width="290.45" height="223.30" fill="none" stroke="#000" stroke-width="1.5"/>
<line x1="80.75" y1="548.40" x2="80.75" y2="552.90" stroke="#000" stroke-width="1.5" />
<line x1="177.57" y1="548.40" x2="177.57" y2="552.90" stroke="#000" stroke-width="1.5" />
<line x1="274.38" y1="548.40" x2="274.38" y2="552.90" stroke="#000" stroke-width="1.5" />
<line x1="371.20" y1="548.40" x2="371.20" y2="552.90" stroke="#000" stroke-width="1.5" />
<line x1="129.16" y1="548.40" x2="129.16" y2="550.90" stroke="#000" stroke-width="1.5" />
<line x1="225.97" y1="548.40" x2="225.97" y2="550.90" stroke="#000" stroke-width="1.5" />
<line x1="322.79" y1="548.40" x2="322.79" y2="550.90" stroke="#000" stroke-width="1.5" />
<line x1="80.75" y1="509.90" x2="76.25" y2="509.90" stroke="#000" stroke-width="1.5" />
<line x1="80.75" y1="463.70" x2="76.25" y2="463.70" stroke="#000" stroke-width="1.5" />
<line x1="80.75" y1="417.50" x2="76.25" y2="417.50" stroke="#000" stroke-width="1.5" />
<line x1="80.75" y1="371.30" x2="76.25" y2="371.30" stroke="#000" stroke-width="1.5" />
<line x1="80.75" y1="325.10" x2="76.25" y2="325.10" stroke="#000" stroke-width="1.5" />
<line x1="80.75" y1="533.00" x2="78.25" y2="533.00" stroke="#000" stroke-width="1.5" />
<line x1="80.75" y1="486.80" x2="78.25" y2="486.80" stroke="#000" stroke-width="1.5" />
<line x1="80.75" y1="440.60" x2="78.25" y2="440.60" stroke="#000" stroke-width="1.5" />
<line x1="80.75" y1="394.40" x2="78.25" y2="394.40" stroke="#000" stroke-width="1.5" />
<line x1="80.75" y1="348.20" x2="78.25" y2="348.20" stroke="#000" stroke-width="1.5" />
<text transform="translate(80.75,570.14) translate(-4.73,0)" fill="#000" ><tspan font-size="17" font-weight="normal" dy="0">0</tspan></text>
<text transform="translate(177.57,570.14) translate(-14.17,0)" fill="#000" ><tspan font-size="17" font-weight="normal" dy="0">300</tspan></text>
<text transform="translate(274.38,570.14) translate(-14.28,0)" fill="#000" ><tspan font-size="17" font-weight="normal" dy="0">600</tspan></text>
<text transform="translate(371.20,570.14) translate(-14.25,0)" fill="#000" ><tspan font-size="17" font-weight="normal" dy="0">900</tspan></text>
<text transform="translate(71.85,515.12) translate(-18.25,0)" fill="#000" ><tspan font-size="17" font-weight="normal" dy="0">30</tspan></text>
<text transform="translate(71.85,468.92) translate(-18.25,0)" fill="#000" ><tspan font-size="17" font-weight="normal" dy="0">60</tspan></text>
<text transform="translate(71.85,422.72) translate(-18.25,0)" fill="#000" ><tspan font-size="17" font-weight="normal" dy="0">90</tspan></text>
<text transform="translate(71.85,376.52) translate(-27.70,0)" fill="#000" ><tspan font-size="17" font-weight="normal" dy="0">120</tspan></text>
<text transform="translate(71.85,330.32) translate(-27.70,0)" fill="#000" ><tspan font-size="17" font-weight="normal" dy="0">150</tspan></text>
<text transform="translate(229.50,590.30) translate(-37.92,0) scale(0.9958,1)" fill="#000" ><tspan font-size="21" font-weight="normal" dy="0">Time (s)</tspan></text>
<text transform="translate(35.70,435.30) rotate(-90) translate(-78.96,0) scale(0.9702,1)" fill="#000" ><tspan font-size="21" font-weight="normal" dy="0">Temperature (°C)</tspan></text>
<line x1="223.80" y1="340.60" x2="257.10" y2="340.60" stroke="#e21f2f" stroke-width="2.0" />
<text transform="translate(262.00,345.60) translate(-1.21,0) scale(1.0552,1)" fill="#000" ><tspan font-size="14" font-weight="normal" dy="0">PCL/PAN</tspan></text>
<text transform="translate(323.80,349.40) translate(-0.38,0) scale(1.0625,1)" fill="#000" ><tspan font-size="9.5" font-weight="normal" dy="0">3.3% Ce6</tspan></text>
<line x1="223.80" y1="361.85" x2="257.10" y2="361.85" stroke="#d6d03a" stroke-width="2.0" />
<text transform="translate(262.00,366.85) translate(-1.21,0) scale(1.0552,1)" fill="#000" ><tspan font-size="14" font-weight="normal" dy="0">PCL/PAN</tspan></text>
<text transform="translate(323.80,370.65) translate(-0.78,0) scale(1.0720,1)" fill="#000" ><tspan font-size="9.5" font-weight="normal" dy="0">1.6% Ce6</tspan></text>
<line x1="223.80" y1="383.10" x2="257.10" y2="383.10" stroke="#96c83a" stroke-width="2.0" />
<text transform="translate(262.00,388.10) translate(-1.21,0) scale(1.0552,1)" fill="#000" ><tspan font-size="14" font-weight="normal" dy="0">PCL/PAN</tspan></text>
<text transform="translate(323.80,391.90) translate(-0.39,0) scale(1.0627,1)" fill="#000" ><tspan font-size="9.5" font-weight="normal" dy="0">0.8% Ce6</tspan></text>
<line x1="223.80" y1="404.35" x2="257.10" y2="404.35" stroke="#2389e0" stroke-width="2.0" />
<text transform="translate(262.00,409.35) translate(-1.21,0) scale(1.0552,1)" fill="#000" ><tspan font-size="14" font-weight="normal" dy="0">PCL/PAN</tspan></text>
<text transform="translate(771.80,328.50) translate(-1.09,0)" fill="#000" ><tspan font-size="28" font-weight="bold" dy="0">e</tspan></text>
<polyline points="855.54,532.93 876.27,405.03 897.01,396.73 917.74,394.27 938.48,392.73 959.21,391.04 979.95,390.27 1000.69,389.66 1021.42,389.04 1042.16,388.73 1062.89,387.35 1083.63,387.35 1104.36,387.35" fill="none" stroke="#e21f2f" stroke-width="2.0" stroke-linejoin="round" stroke-linecap="round" />
<rect x="853.44" y="530.83" width="4.20" height="4.20" fill="#e21f2f" />
<rect x="874.17" y="402.93" width="4.20" height="4.20" fill="#e21f2f" />
<rect x="894.91" y="394.63" width="4.20" height="4.20" fill="#e21f2f" />
<rect x="915.64" y="392.17" width="4.20" height="4.20" fill="#e21f2f" />
<rect x="936.38" y="390.63" width="4.20" height="4.20" fill="#e21f2f" />
<rect x="957.11" y="388.94" width="4.20" height="4.20" fill="#e21f2f" />
<rect x="977.85" y="388.17" width="4.20" height="4.20" fill="#e21f2f" />
<rect x="998.59" y="387.56" width="4.20" height="4.20" fill="#e21f2f" />
<rect x="1019.32" y="386.94" width="4.20" height="4.20" fill="#e21f2f" />
<rect x="1040.06" y="386.63" width="4.20" height="4.20" fill="#e21f2f" />
<rect x="1060.79" y="385.25" width="4.20" height="4.20" fill="#e21f2f" />
<rect x="1081.53" y="385.25" width="4.20" height="4.20" fill="#e21f2f" />
<rect x="1102.26" y="385.25" width="4.20" height="4.20" fill="#e21f2f" />
<polyline points="855.54,532.93 876.27,447.15 897.01,450.53 917.74,448.53 938.48,449.76 959.21,448.84 979.95,449.76 1000.69,448.84 1021.42,448.23 1042.16,447.46 1062.89,446.53 1083.63,445.92 1104.36,444.23" fill="none" stroke="#2389e0" stroke-width="2.0" stroke-linejoin="round" stroke-linecap="round" />
<circle cx="855.54" cy="532.93" r="2.6" fill="#2389e0"/>
<circle cx="876.27" cy="447.15" r="2.6" fill="#2389e0"/>
<circle cx="897.01" cy="450.53" r="2.6" fill="#2389e0"/>
<circle cx="917.74" cy="448.53" r="2.6" fill="#2389e0"/>
<circle cx="938.48" cy="449.76" r="2.6" fill="#2389e0"/>
<circle cx="959.21" cy="448.84" r="2.6" fill="#2389e0"/>
<circle cx="979.95" cy="449.76" r="2.6" fill="#2389e0"/>
<circle cx="1000.69" cy="448.84" r="2.6" fill="#2389e0"/>
<circle cx="1021.42" cy="448.23" r="2.6" fill="#2389e0"/>
<circle cx="1042.16" cy="447.46" r="2.6" fill="#2389e0"/>
<circle cx="1062.89" cy="446.53" r="2.6" fill="#2389e0"/>
<circle cx="1083.63" cy="445.92" r="2.6" fill="#2389e0"/>
<circle cx="1104.36" cy="444.23" r="2.6" fill="#2389e0"/>
<rect x="834.80" y="325.40" width="290.30" height="222.90" fill="none" stroke="#000" stroke-width="1.5"/>
<line x1="855.54" y1="548.30" x2="855.54" y2="552.80" stroke="#000" stroke-width="1.5" />
<line x1="938.48" y1="548.30" x2="938.48" y2="552.80" stroke="#000" stroke-width="1.5" />
<line x1="1021.42" y1="548.30" x2="1021.42" y2="552.80" stroke="#000" stroke-width="1.5" />
<line x1="1104.36" y1="548.30" x2="1104.36" y2="552.80" stroke="#000" stroke-width="1.5" />
<line x1="834.80" y1="532.93" x2="830.30" y2="532.93" stroke="#000" stroke-width="1.5" />
<line x1="834.80" y1="486.81" x2="830.30" y2="486.81" stroke="#000" stroke-width="1.5" />
<line x1="834.80" y1="440.69" x2="830.30" y2="440.69" stroke="#000" stroke-width="1.5" />
<line x1="834.80" y1="394.58" x2="830.30" y2="394.58" stroke="#000" stroke-width="1.5" />
<line x1="834.80" y1="348.46" x2="830.30" y2="348.46" stroke="#000" stroke-width="1.5" />
<line x1="834.80" y1="509.87" x2="832.30" y2="509.87" stroke="#000" stroke-width="1.5" />
<line x1="834.80" y1="463.75" x2="832.30" y2="463.75" stroke="#000" stroke-width="1.5" />
<line x1="834.80" y1="417.63" x2="832.30" y2="417.63" stroke="#000" stroke-width="1.5" />
<line x1="834.80" y1="371.52" x2="832.30" y2="371.52" stroke="#000" stroke-width="1.5" />
<line x1="834.80" y1="325.40" x2="832.30" y2="325.40" stroke="#000" stroke-width="1.5" />
<text transform="translate(855.54,570.89) translate(-4.87,0)" fill="#000" ><tspan font-size="17.5" font-weight="normal" dy="0">0</tspan></text>
<text transform="translate(938.48,570.89) translate(-9.83,0)" fill="#000" ><tspan font-size="17.5" font-weight="normal" dy="0">20</tspan></text>
<text transform="translate(1021.42,570.89) translate(-9.59,0)" fill="#000" ><tspan font-size="17.5" font-weight="normal" dy="0">40</tspan></text>
<text transform="translate(1104.36,570.89) translate(-9.84,0)" fill="#000" ><tspan font-size="17.5" font-weight="normal" dy="0">60</tspan></text>
<text transform="translate(826.80,538.82) translate(-23.64,0)" fill="#000" ><tspan font-size="17.5" font-weight="normal" dy="0">0.0</tspan></text>
<text transform="translate(826.80,492.71) translate(-23.56,0)" fill="#000" ><tspan font-size="17.5" font-weight="normal" dy="0">0.3</tspan></text>
<text transform="translate(826.80,446.59) translate(-23.56,0)" fill="#000" ><tspan font-size="17.5" font-weight="normal" dy="0">0.6</tspan></text>
<text transform="translate(826.80,400.47) translate(-23.50,0)" fill="#000" ><tspan font-size="17.5" font-weight="normal" dy="0">0.9</tspan></text>
<text transform="translate(826.80,354.35) translate(-23.45,0)" fill="#000" ><tspan font-size="17.5" font-weight="normal" dy="0">1.2</tspan></text>
<text transform="translate(980.10,597.00) translate(-49.72,0)" fill="#000" ><tspan font-size="21" font-weight="normal" dy="0">Time (min)</tspan></text>
<text transform="translate(793.00,434.30) rotate(-90) translate(-49.60,0) scale(0.9542,1)" fill="#000" ><tspan font-size="21" font-weight="normal" dy="0">Δm (g/cm</tspan><tspan font-size="14" font-weight="normal" dy="-7">2</tspan><tspan font-size="21" font-weight="normal" dy="7">)</tspan></text>
<line x1="843.20" y1="350.90" x2="878.10" y2="350.90" stroke="#e21f2f" stroke-width="2.0" />
<rect x="857.70" y="348.80" width="4.20" height="4.20" fill="#e21f2f" />
<line x1="843.20" y1="371.50" x2="878.10" y2="371.50" stroke="#2389e0" stroke-width="2.0" />
<circle cx="859.8" cy="371.5" r="2.6" fill="#2389e0"/>
<text transform="translate(881.50,355.90) translate(-1.21,0) scale(1.0517,1)" fill="#000" ><tspan font-size="14" font-weight="normal" dy="0">PCL/PAN</tspan></text>
<text transform="translate(945.30,359.70) translate(-0.74,0) scale(1.0252,1)" fill="#000" ><tspan font-size="9.5" font-weight="normal" dy="0">1.6% Ce6</tspan></text>
<text transform="translate(987.80,355.90) translate(-0.73,0) scale(1.0613,1)" fill="#000" ><tspan font-size="14" font-weight="normal" dy="0">+light</tspan></text>
<text transform="translate(881.50,376.50) translate(-1.21,0) scale(1.0517,1)" fill="#000" ><tspan font-size="14" font-weight="normal" dy="0">PCL/PAN</tspan></text>
<text transform="translate(945.30,380.30) translate(-0.74,0) scale(1.0252,1)" fill="#000" ><tspan font-size="9.5" font-weight="normal" dy="0">1.6% Ce6</tspan></text>
<text transform="translate(12.40,623.10) translate(-0.50,0)" fill="#000" ><tspan font-size="29" font-weight="bold" dy="0">f</tspan></text>
<path d="M80.90,822.03 C81.92,821.95 84.47,821.66 87.02,821.51 C89.57,821.36 93.65,821.40 96.19,821.11 C98.74,820.83 99.25,820.24 102.31,819.80 C105.37,819.37 110.47,818.93 114.55,818.49 C118.63,818.05 119.65,817.33 126.78,817.18 C133.92,817.03 146.67,817.46 157.37,817.57 C168.08,817.68 180.83,817.66 191.02,817.84 C201.22,818.01 208.87,818.34 218.55,818.62 C228.24,818.91 233.85,819.13 249.14,819.54 C264.44,819.96 289.93,820.61 310.32,821.11 C330.71,821.62 361.30,822.32 371.50,822.56" fill="none" stroke="#2389e0" stroke-width="2.0" stroke-linejoin="round" stroke-linecap="round" />
<path d="M80.90,809.96 C84.47,804.59 94.46,788.17 102.31,777.70 C110.16,767.22 121.63,754.15 128.01,747.13 C134.38,740.11 135.91,738.50 140.55,735.59 C145.19,732.68 151.26,730.10 155.84,729.68 C160.43,729.27 162.12,729.33 168.08,733.10 C174.04,736.86 183.22,745.99 191.63,752.25 C200.05,758.50 210.96,765.61 218.55,770.61 C226.15,775.62 228.90,778.55 237.21,782.29 C245.52,786.03 258.01,789.94 268.41,793.04 C278.81,796.15 289.27,798.44 299.61,800.91 C309.96,803.38 318.53,805.75 330.51,807.87 C342.49,809.99 364.67,812.68 371.50,813.64" fill="none" stroke="#d8d232" stroke-width="2.0" stroke-linejoin="round" stroke-linecap="round" />
<path d="M80.90,804.72 C84.47,799.36 94.46,785.17 102.31,772.58 C110.16,759.99 121.63,738.71 128.01,729.16 C134.38,719.61 136.32,718.56 140.55,715.26 C144.78,711.95 149.11,709.79 153.40,709.35 C157.68,708.92 162.01,710.60 166.24,712.63 C170.48,714.67 174.55,717.73 178.79,721.55 C183.02,725.38 187.35,730.91 191.63,735.59 C195.92,740.27 200.00,745.54 204.48,749.62 C208.97,753.71 213.10,756.23 218.55,760.12 C224.01,764.01 231.45,769.54 237.21,772.97 C242.97,776.41 245.32,777.61 253.12,780.71 C260.92,783.82 273.66,788.36 284.01,791.60 C294.36,794.84 304.97,797.55 315.22,800.13 C325.46,802.71 336.12,805.29 345.50,807.08 C354.88,808.87 367.17,810.25 371.50,810.88" fill="none" stroke="#8cc63c" stroke-width="2.0" stroke-linejoin="round" stroke-linecap="round" />
<path d="M80.90,796.85 C82.38,793.66 86.20,785.13 89.77,777.70 C93.34,770.26 98.08,761.60 102.31,752.25 C106.54,742.89 110.88,731.35 115.16,721.55 C119.44,711.76 123.78,701.13 128.01,693.48 C132.24,685.83 136.32,679.58 140.55,675.64 C144.78,671.70 149.11,670.28 153.40,669.87 C157.68,669.45 162.01,670.48 166.24,673.15 C170.48,675.81 174.55,680.34 178.79,685.87 C183.02,691.40 187.35,699.95 191.63,706.34 C195.92,712.72 200.20,718.86 204.48,724.18 C208.76,729.49 213.15,733.97 217.33,738.21 C221.51,742.45 224.93,745.91 229.56,749.62 C234.20,753.34 238.69,756.75 245.17,760.51 C251.64,764.27 260.66,768.56 268.41,772.19 C276.16,775.82 283.86,779.18 291.66,782.29 C299.46,785.39 307.42,787.97 315.22,790.81 C323.02,793.66 329.08,796.69 338.46,799.34 C347.84,801.98 365.99,805.46 371.50,806.69" fill="none" stroke="#e4232f" stroke-width="2.0" stroke-linejoin="round" stroke-linecap="round" />
<rect x="80.90" y="613.20" width="290.60" height="223.00" fill="none" stroke="#000" stroke-width="1.5"/>
<line x1="126.78" y1="836.20" x2="126.78" y2="840.70" stroke="#000" stroke-width="1.5" />
<line x1="187.96" y1="836.20" x2="187.96" y2="840.70" stroke="#000" stroke-width="1.5" />
<line x1="249.14" y1="836.20" x2="249.14" y2="840.70" stroke="#000" stroke-width="1.5" />
<line x1="310.32" y1="836.20" x2="310.32" y2="840.70" stroke="#000" stroke-width="1.5" />
<line x1="371.50" y1="836.20" x2="371.50" y2="840.70" stroke="#000" stroke-width="1.5" />
<line x1="96.19" y1="836.20" x2="96.19" y2="838.70" stroke="#000" stroke-width="1.5" />
<line x1="157.37" y1="836.20" x2="157.37" y2="838.70" stroke="#000" stroke-width="1.5" />
<line x1="218.55" y1="836.20" x2="218.55" y2="838.70" stroke="#000" stroke-width="1.5" />
<line x1="279.73" y1="836.20" x2="279.73" y2="838.70" stroke="#000" stroke-width="1.5" />
<line x1="340.91" y1="836.20" x2="340.91" y2="838.70" stroke="#000" stroke-width="1.5" />
<line x1="80.90" y1="823.08" x2="76.40" y2="823.08" stroke="#000" stroke-width="1.5" />
<line x1="80.90" y1="770.61" x2="76.40" y2="770.61" stroke="#000" stroke-width="1.5" />
<line x1="80.90" y1="718.14" x2="76.40" y2="718.14" stroke="#000" stroke-width="1.5" />
<line x1="80.90" y1="665.67" x2="76.40" y2="665.67" stroke="#000" stroke-width="1.5" />
<line x1="80.90" y1="613.20" x2="76.40" y2="613.20" stroke="#000" stroke-width="1.5" />
<line x1="80.90" y1="796.85" x2="78.40" y2="796.85" stroke="#000" stroke-width="1.5" />
<line x1="80.90" y1="744.38" x2="78.40" y2="744.38" stroke="#000" stroke-width="1.5" />
<line x1="80.90" y1="691.91" x2="78.40" y2="691.91" stroke="#000" stroke-width="1.5" />
<line x1="80.90" y1="639.44" x2="78.40" y2="639.44" stroke="#000" stroke-width="1.5" />
<text transform="translate(126.78,857.99) translate(-14.61,0)" fill="#000" ><tspan font-size="17.5" font-weight="normal" dy="0">520</tspan></text>
<text transform="translate(187.96,857.99) translate(-14.61,0)" fill="#000" ><tspan font-size="17.5" font-weight="normal" dy="0">540</tspan></text>
<text transform="translate(249.14,857.99) translate(-14.61,0)" fill="#000" ><tspan font-size="17.5" font-weight="normal" dy="0">560</tspan></text>
<text transform="translate(310.32,857.99) translate(-14.61,0)" fill="#000" ><tspan font-size="17.5" font-weight="normal" dy="0">580</tspan></text>
<text transform="translate(371.50,857.99) translate(-14.70,0)" fill="#000" ><tspan font-size="17.5" font-weight="normal" dy="0">600</tspan></text>
<text transform="translate(72.60,827.88) translate(-23.64,0)" fill="#000" ><tspan font-size="17.5" font-weight="normal" dy="0">0.0</tspan></text>
<text transform="translate(72.60,775.41) translate(-23.81,0)" fill="#000" ><tspan font-size="17.5" font-weight="normal" dy="0">0.4</tspan></text>
<text transform="translate(72.60,722.94) translate(-23.57,0)" fill="#000" ><tspan font-size="17.5" font-weight="normal" dy="0">0.8</tspan></text>
<text transform="translate(72.60,670.47) translate(-23.45,0)" fill="#000" ><tspan font-size="17.5" font-weight="normal" dy="0">1.2</tspan></text>
<text transform="translate(72.60,618.00) translate(-23.56,0)" fill="#000" ><tspan font-size="17.5" font-weight="normal" dy="0">1.6</tspan></text>
<text transform="translate(226.40,880.90) translate(-79.94,0) scale(1.0076,1)" fill="#000" ><tspan font-size="21" font-weight="normal" dy="0">Wavelength (nm)</tspan></text>
<text transform="translate(37.00,732.00) rotate(-90) translate(-66.43,0) scale(0.9937,1)" fill="#000" ><tspan font-size="21" font-weight="normal" dy="0">Intensity (a.u.)</tspan></text>
<line x1="216.70" y1="627.70" x2="251.70" y2="627.70" stroke="#e4232f" stroke-width="2.0" />
<text transform="translate(255.40,632.70) translate(-1.22,0) scale(1.0587,1)" fill="#000" ><tspan font-size="14" font-weight="normal" dy="0">PCL/PAN</tspan></text>
<text transform="translate(317.40,636.50) translate(-0.38,0) scale(1.0625,1)" fill="#000" ><tspan font-size="9.5" font-weight="normal" dy="0">3.3% Ce6</tspan></text>
<line x1="216.70" y1="649.25" x2="251.70" y2="649.25" stroke="#8cc63c" stroke-width="2.0" />
<text transform="translate(255.40,654.25) translate(-1.22,0) scale(1.0587,1)" fill="#000" ><tspan font-size="14" font-weight="normal" dy="0">PCL/PAN</tspan></text>
<text transform="translate(317.40,658.05) translate(-0.78,0) scale(1.0720,1)" fill="#000" ><tspan font-size="9.5" font-weight="normal" dy="0">1.6% Ce6</tspan></text>
<line x1="216.70" y1="670.80" x2="251.70" y2="670.80" stroke="#d8d232" stroke-width="2.0" />
<text transform="translate(255.40,675.80) translate(-1.22,0) scale(1.0587,1)" fill="#000" ><tspan font-size="14" font-weight="normal" dy="0">PCL/PAN</tspan></text>
<text transform="translate(317.40,679.60) translate(-0.39,0) scale(1.0627,1)" fill="#000" ><tspan font-size="9.5" font-weight="normal" dy="0">0.8% Ce6</tspan></text>
<line x1="216.70" y1="692.35" x2="251.70" y2="692.35" stroke="#2389e0" stroke-width="2.0" />
<text transform="translate(255.40,697.35) translate(-1.22,0) scale(1.0587,1)" fill="#000" ><tspan font-size="14" font-weight="normal" dy="0">PCL/PAN</tspan></text>
<text transform="translate(400.30,623.00) translate(-1.19,0)" fill="#000" ><tspan font-size="29" font-weight="bold" dy="0">g</tspan></text>
<polyline points="451.60,829.10 742.00,829.10" fill="none" stroke="#c273ee" stroke-width="2.0" stroke-linejoin="round" stroke-linecap="round" />
<polyline points="451.60,820.43 452.70,818.89 454.06,817.65 455.66,816.28 457.44,814.82 459.39,812.38 461.46,810.41 463.62,808.70 465.83,806.70 468.06,805.00 470.28,803.36 472.45,801.25 474.53,799.48 476.41,798.68 478.32,796.66 480.25,795.98 482.19,794.77 484.16,793.78 486.14,791.68 488.13,790.84 490.14,789.64 492.15,788.88 494.16,788.48 496.18,787.24 498.19,786.17 500.20,785.69 502.08,784.05 503.98,783.84 505.89,783.26 507.81,781.80 509.73,781.74 511.67,780.21 513.60,780.01 515.52,779.30 517.44,778.98 519.35,778.38 521.24,778.33 523.12,778.24 524.97,777.28 526.80,777.93 528.73,777.57 530.63,778.53 532.51,778.30 534.36,779.04 536.19,779.97 538.02,780.83 539.84,781.95 541.66,782.78 543.48,784.39 545.32,785.02 547.17,785.62 549.05,787.16 550.95,787.25 552.88,788.08 554.85,789.37 556.85,790.25 558.87,791.01 560.89,791.92 562.92,792.15 564.95,793.59 566.97,794.77 568.97,795.49 570.94,795.61 572.88,796.05 574.78,797.22 576.62,797.84 578.75,798.43 580.81,798.80 582.82,799.84 584.80,799.90 586.74,800.37 588.67,800.70 590.58,801.53 592.49,801.93 594.42,802.16 596.36,802.02 598.33,803.10 600.14,803.35 601.94,804.17 603.72,804.92 605.51,805.52 607.29,805.34 609.08,805.95 610.89,806.93 612.72,807.18 614.57,807.73 616.45,808.02 618.37,808.45 620.34,809.45 622.19,809.25 624.09,809.63 626.01,810.34 627.97,810.37 629.95,811.06 631.94,811.47 633.95,811.87 635.97,811.51 637.99,812.50 640.01,812.86 642.03,812.38 644.03,812.69 646.02,813.27 647.99,813.20 649.97,814.28 651.95,814.36 653.93,814.61 655.91,814.77 657.88,815.30 659.86,815.69 661.84,815.69 663.81,815.40 665.79,815.59 667.76,816.09 669.73,816.62 671.69,817.10 673.60,816.63 675.42,817.30 677.17,817.31 678.88,818.23 680.58,818.25 682.30,817.82 684.06,818.07 685.90,818.19 687.83,818.68 689.88,819.08 692.09,819.15 694.47,819.12 697.06,819.93 698.60,819.85 700.27,820.27 702.05,819.94 703.94,820.88 705.92,820.38 707.98,820.30 710.09,821.43 712.26,821.05 714.46,821.19 716.68,821.18 718.90,821.65 721.12,822.17 723.31,822.22 725.47,821.85 727.58,822.09 729.63,823.05 731.59,823.26 733.47,823.42 735.24,823.65 736.88,823.37 738.40,823.81 739.77,823.20 740.97,823.52 742.00,824.14" fill="none" stroke="#4a98e6" stroke-width="2.0" stroke-linejoin="round" stroke-linecap="round" />
<polyline points="451.60,813.29 452.70,812.59 454.06,810.76 455.66,807.47 457.44,805.70 459.39,802.95 461.46,799.46 463.62,796.75 465.83,793.17 468.06,790.86 470.28,787.30 472.45,785.31 474.53,782.68 476.45,780.34 478.46,778.61 480.53,776.44 482.65,774.77 484.80,773.61 486.95,771.00 489.07,769.59 491.16,768.23 493.18,766.80 495.12,764.66 496.95,763.55 498.65,761.91 500.20,760.89 503.02,758.57 505.25,757.36 507.12,756.00 508.84,755.11 510.64,754.60 512.74,753.00 514.54,752.95 516.44,751.81 518.40,751.01 520.40,750.76 522.39,750.81 524.35,749.77 526.24,749.70 528.02,750.11 530.10,750.31 531.90,750.05 533.62,750.99 535.45,750.76 537.59,752.15 540.25,753.45 541.78,754.34 543.39,754.96 545.08,755.67 546.85,757.32 548.70,758.36 550.62,759.33 552.63,760.85 554.71,761.85 556.86,763.25 559.10,764.75 561.40,765.94 563.79,767.55 565.45,769.02 567.21,769.20 569.05,771.01 570.96,772.14 572.93,773.42 574.95,774.18 577.00,775.46 579.07,777.22 581.15,778.66 583.23,780.28 585.30,780.78 587.34,782.78 589.33,783.65 591.28,785.04 593.17,786.21 594.98,787.26 596.70,788.43 598.33,789.51 600.59,790.27 602.68,791.15 604.63,792.34 606.46,793.74 608.20,794.11 609.89,795.57 611.54,795.96 613.19,796.25 614.87,796.84 616.60,797.97 618.42,798.25 620.34,799.28 622.19,799.87 624.09,800.39 626.01,800.53 627.97,801.30 629.95,802.07 631.94,802.29 633.95,802.83 635.97,803.57 637.99,803.56 640.01,803.94 642.03,804.56 644.03,804.62 646.02,805.96 647.99,805.86 649.97,806.09 651.95,806.74 653.93,807.24 655.91,807.04 657.88,807.61 659.86,808.08 661.84,808.61 663.81,807.97 665.79,808.89 667.76,809.42 669.73,809.63 671.69,809.90 673.60,809.59 675.42,810.58 677.17,810.78 678.88,811.25 680.58,811.16 682.30,811.72 684.06,811.87 685.90,811.77 687.83,811.88 689.88,812.28 692.09,813.40 694.47,813.39 697.06,813.26 698.60,814.28 700.27,814.31 702.05,814.25 703.94,814.58 705.92,814.45 707.98,814.72 710.09,815.23 712.26,815.69 714.46,815.96 716.68,816.18 718.90,816.64 721.12,816.28 723.31,817.04 725.47,816.55 727.58,817.03 729.63,817.85 731.59,817.63 733.47,817.73 735.24,818.49 736.88,818.23 738.40,818.86 739.77,818.27 740.97,819.18 742.00,818.66" fill="none" stroke="#f2d60a" stroke-width="2.0" stroke-linejoin="round" stroke-linecap="round" />
<polyline points="451.60,807.06 452.74,805.04 454.21,802.52 455.96,800.28 457.92,796.32 460.04,792.77 462.26,788.77 464.53,785.21 466.78,781.22 468.97,777.17 471.02,773.84 472.90,770.39 474.53,768.06 476.89,764.02 478.93,759.99 480.73,757.32 482.39,754.57 483.99,751.89 485.62,749.87 487.37,747.71 489.51,744.10 491.66,741.55 493.80,738.88 495.95,736.46 498.08,733.79 500.20,732.21 502.29,729.73 504.35,728.16 506.39,726.13 508.46,724.37 510.56,723.23 512.74,722.19 514.67,720.83 516.66,719.72 518.69,719.11 520.73,718.67 522.78,718.08 524.81,718.36 526.80,718.42 528.73,718.60 530.61,718.68 532.48,720.09 534.35,721.14 536.25,722.28 538.20,723.58 540.25,724.66 542.09,725.57 543.94,726.61 545.83,728.48 547.76,729.91 549.74,731.59 551.79,733.31 553.92,734.71 556.14,736.99 557.83,738.95 559.57,740.96 561.37,742.27 563.20,744.46 565.07,746.50 566.97,749.28 568.89,751.12 570.83,752.83 572.76,755.13 574.70,756.59 576.62,758.98 578.55,759.57 580.49,761.74 582.45,762.47 584.41,763.86 586.39,763.98 588.37,764.98 590.36,765.56 592.35,766.61 594.35,767.41 596.34,768.85 598.33,769.54 600.14,770.94 601.94,772.59 603.72,773.27 605.51,775.23 607.29,776.81 609.08,778.32 610.89,779.31 612.72,780.93 614.57,781.48 616.45,782.69 618.37,784.56 620.34,785.70 622.19,786.12 624.09,787.25 626.01,787.58 627.97,787.95 629.95,789.11 631.94,789.50 633.95,789.55 635.97,790.53 637.99,791.13 640.01,791.08 642.03,791.67 644.03,792.12 646.02,792.89 647.99,793.74 649.97,794.02 651.95,794.44 653.93,795.18 655.91,796.13 657.88,796.62 659.86,797.05 661.84,797.23 663.81,797.99 665.79,798.55 667.76,798.82 669.73,800.11 671.69,800.15 673.60,801.03 675.42,801.40 677.17,801.73 678.88,802.94 680.58,802.84 682.30,804.34 684.06,804.47 685.90,805.10 687.83,806.01 689.88,806.27 692.09,806.94 694.47,807.51 697.06,807.77 698.60,808.77 700.27,808.68 702.05,808.56 703.94,809.49 705.92,809.05 707.98,810.00 710.09,809.81 712.26,810.60 714.46,810.60 716.68,810.90 718.90,811.51 721.12,811.15 723.31,811.63 725.47,811.67 727.58,812.06 729.63,812.28 731.59,812.53 733.47,812.97 735.24,812.56 736.88,813.57 738.40,812.94 739.77,813.12 740.97,813.63 742.00,813.47" fill="none" stroke="#4cc068" stroke-width="2.0" stroke-linejoin="round" stroke-linecap="round" />
<polyline points="451.60,799.35 452.74,796.64 454.21,794.00 455.96,789.27 457.92,785.70 460.04,780.46 462.26,776.05 464.53,770.26 466.78,765.75 468.97,760.18 471.02,755.40 472.90,750.94 474.53,747.33 476.89,740.80 478.93,734.94 480.73,730.43 482.39,724.97 483.99,719.78 485.62,715.58 487.37,711.74 489.51,707.56 491.66,703.15 493.80,700.70 495.95,696.97 498.08,693.99 500.20,691.79 502.29,688.68 504.35,685.83 506.39,682.86 508.46,680.53 510.56,677.80 512.74,675.96 514.69,675.32 516.71,673.71 518.78,673.74 520.86,673.14 522.91,672.23 524.90,671.99 526.80,672.10 528.87,672.45 530.82,673.49 532.70,675.32 534.56,676.32 536.45,677.79 538.41,680.40 540.45,681.95 542.51,684.50 544.60,686.90 546.71,689.05 548.83,691.38 550.95,693.56 552.77,696.50 554.59,698.22 556.43,699.84 558.27,702.22 560.11,704.64 561.95,707.18 563.79,709.10 565.90,712.34 567.98,714.99 570.05,718.09 572.16,721.43 574.34,723.96 576.62,727.05 578.48,728.88 580.48,730.36 582.57,732.72 584.67,734.48 586.72,735.69 588.65,737.31 590.41,738.21 591.91,740.03 594.13,741.56 595.36,742.64 598.33,744.72 599.61,746.04 601.05,747.31 602.65,748.58 604.37,751.05 606.21,751.94 608.13,754.13 610.12,755.97 612.15,758.17 614.21,760.01 616.28,761.96 618.33,763.62 620.34,765.27 622.19,766.42 624.09,767.59 626.01,768.65 627.97,769.13 629.95,770.24 631.94,771.36 633.95,772.92 635.97,773.57 637.99,774.17 640.01,774.88 642.03,776.02 644.03,776.66 646.02,777.26 647.99,778.76 649.97,779.47 651.95,779.89 653.93,781.12 655.91,781.48 657.88,782.56 659.86,783.68 661.84,783.98 663.81,785.11 665.79,785.13 667.76,785.81 669.73,786.88 671.69,787.28 673.65,788.75 675.61,789.31 677.57,790.38 679.52,791.31 681.47,791.34 683.42,792.92 685.37,792.83 687.32,794.01 689.27,794.65 691.22,796.08 693.16,795.97 695.11,796.82 697.06,798.23 699.03,798.86 701.03,799.59 703.04,799.91 705.06,801.01 707.09,800.95 709.11,801.90 711.11,802.33 713.10,803.40 715.06,803.61 716.98,804.41 718.85,804.79 720.67,805.59 722.44,805.55 724.72,806.40 727.03,807.11 729.35,808.30 731.62,809.12 733.80,809.79 735.86,810.41 737.75,810.11 739.43,811.28 740.86,811.10 742.00,812.08" fill="none" stroke="#f2a070" stroke-width="2.0" stroke-linejoin="round" stroke-linecap="round" />
<polyline points="451.60,796.81 452.93,793.27 454.78,789.33 456.97,785.01 459.33,778.60 461.69,772.41 463.67,766.87 465.76,758.95 467.94,752.13 470.14,744.36 472.35,736.66 474.53,729.39 476.36,724.09 478.19,717.83 480.03,712.09 481.86,706.93 483.70,701.31 485.53,696.31 487.37,691.12 489.54,686.05 491.75,680.23 493.96,674.69 496.13,669.99 498.22,664.53 500.20,660.91 502.44,657.80 504.55,654.67 506.56,652.75 508.47,650.98 510.29,648.64 512.37,644.50 514.27,640.68 516.08,636.40 517.93,633.87 519.79,633.26 521.60,632.59 523.49,634.16 525.58,634.94 527.35,634.90 529.19,636.16 531.14,636.91 533.27,638.30 535.66,640.80 537.34,642.78 539.18,645.23 541.12,648.03 543.13,651.47 545.17,653.84 547.18,657.56 549.12,660.91 550.95,663.52 552.91,666.40 554.79,669.94 556.62,673.47 558.41,676.80 560.19,680.37 561.97,683.21 563.79,686.62 565.90,690.44 567.98,693.78 570.05,697.14 572.16,699.83 574.34,702.92 576.62,706.38 578.45,709.49 580.38,712.19 582.38,714.02 584.40,717.24 586.41,720.04 588.35,722.16 590.20,724.54 591.91,726.91 594.23,730.35 596.18,733.54 598.04,736.23 600.09,739.16 602.61,741.97 604.23,744.00 605.92,745.93 607.70,747.16 609.57,749.93 611.53,751.17 613.58,753.38 615.73,754.83 617.98,756.71 620.34,758.58 622.05,759.70 623.85,761.24 625.72,762.60 627.65,762.99 629.63,764.60 631.66,765.84 633.71,766.22 635.78,767.50 637.85,769.10 639.93,769.63 641.99,770.98 644.02,771.24 646.02,772.78 647.99,773.01 649.97,774.19 651.95,775.54 653.93,775.98 655.91,776.17 657.88,777.18 659.86,778.46 661.84,778.97 663.81,779.81 665.79,780.74 667.76,781.02 669.73,781.73 671.69,783.07 673.65,783.63 675.61,784.26 677.57,785.21 679.52,786.94 681.47,788.05 683.42,788.23 685.37,789.85 687.32,791.03 689.27,791.40 691.22,792.92 693.16,793.41 695.11,794.34 697.06,795.59 699.03,796.24 701.03,797.21 703.04,797.47 705.06,798.75 707.09,799.49 709.11,799.62 711.11,800.89 713.10,801.40 715.06,801.96 716.98,803.10 718.85,803.41 720.67,803.52 722.44,803.83 724.72,805.16 727.03,805.68 729.35,806.72 731.62,806.87 733.80,807.54 735.86,807.89 737.75,808.54 739.43,808.92 740.86,808.66 742.00,809.08" fill="none" stroke="#e2353f" stroke-width="2.0" stroke-linejoin="round" stroke-linecap="round" />
<rect x="451.60" y="613.00" width="290.40" height="223.30" fill="none" stroke="#000" stroke-width="1.5"/>
<line x1="497.45" y1="836.30" x2="497.45" y2="840.80" stroke="#000" stroke-width="1.5" />
<line x1="558.59" y1="836.30" x2="558.59" y2="840.80" stroke="#000" stroke-width="1.5" />
<line x1="619.73" y1="836.30" x2="619.73" y2="840.80" stroke="#000" stroke-width="1.5" />
<line x1="680.86" y1="836.30" x2="680.86" y2="840.80" stroke="#000" stroke-width="1.5" />
<line x1="742.00" y1="836.30" x2="742.00" y2="840.80" stroke="#000" stroke-width="1.5" />
<line x1="466.88" y1="836.30" x2="466.88" y2="838.80" stroke="#000" stroke-width="1.5" />
<line x1="528.02" y1="836.30" x2="528.02" y2="838.80" stroke="#000" stroke-width="1.5" />
<line x1="589.16" y1="836.30" x2="589.16" y2="838.80" stroke="#000" stroke-width="1.5" />
<line x1="650.29" y1="836.30" x2="650.29" y2="838.80" stroke="#000" stroke-width="1.5" />
<line x1="711.43" y1="836.30" x2="711.43" y2="838.80" stroke="#000" stroke-width="1.5" />
<line x1="451.60" y1="829.10" x2="447.10" y2="829.10" stroke="#000" stroke-width="1.5" />
<line x1="451.60" y1="757.06" x2="447.10" y2="757.06" stroke="#000" stroke-width="1.5" />
<line x1="451.60" y1="685.03" x2="447.10" y2="685.03" stroke="#000" stroke-width="1.5" />
<line x1="451.60" y1="613.00" x2="447.10" y2="613.00" stroke="#000" stroke-width="1.5" />
<line x1="451.60" y1="793.08" x2="449.10" y2="793.08" stroke="#000" stroke-width="1.5" />
<line x1="451.60" y1="721.05" x2="449.10" y2="721.05" stroke="#000" stroke-width="1.5" />
<line x1="451.60" y1="649.02" x2="449.10" y2="649.02" stroke="#000" stroke-width="1.5" />
<text transform="translate(497.45,858.09) translate(-14.61,0)" fill="#000" ><tspan font-size="17.5" font-weight="normal" dy="0">520</tspan></text>
<text transform="translate(558.59,858.09) translate(-14.61,0)" fill="#000" ><tspan font-size="17.5" font-weight="normal" dy="0">540</tspan></text>
<text transform="translate(619.73,858.09) translate(-14.61,0)" fill="#000" ><tspan font-size="17.5" font-weight="normal" dy="0">560</tspan></text>
<text transform="translate(680.86,858.09) translate(-14.61,0)" fill="#000" ><tspan font-size="17.5" font-weight="normal" dy="0">580</tspan></text>
<text transform="translate(742.00,858.09) translate(-14.70,0)" fill="#000" ><tspan font-size="17.5" font-weight="normal" dy="0">600</tspan></text>
<text transform="translate(443.30,834.09) translate(-9.05,0)" fill="#000" ><tspan font-size="17.5" font-weight="normal" dy="0">0</tspan></text>
<text transform="translate(443.30,762.06) translate(-8.88,0)" fill="#000" ><tspan font-size="17.5" font-weight="normal" dy="0">1</tspan></text>
<text transform="translate(443.30,690.03) translate(-8.85,0)" fill="#000" ><tspan font-size="17.5" font-weight="normal" dy="0">2</tspan></text>
<text transform="translate(443.30,618.00) translate(-8.96,0)" fill="#000" ><tspan font-size="17.5" font-weight="normal" dy="0">3</tspan></text>
<text transform="translate(596.60,880.90) translate(-79.94,0) scale(1.0076,1)" fill="#000" ><tspan font-size="21" font-weight="normal" dy="0">Wavelength (nm)</tspan></text>
<text transform="translate(425.50,724.50) rotate(-90) translate(-66.68,0) scale(0.9976,1)" fill="#000" ><tspan font-size="21" font-weight="normal" dy="0">Intensity (a.u.)</tspan></text>
<text transform="translate(456.70,636.20) translate(-0.46,0) scale(0.9851,1)" fill="#000" ><tspan font-size="20.5" font-weight="normal" dy="0">45 </tspan><tspan font-size="20.5" font-weight="normal" dy="0">°</tspan><tspan font-size="20.5" font-weight="normal" dy="0">C</tspan></text>
<line x1="659.60" y1="634.10" x2="693.90" y2="634.10" stroke="#c273ee" stroke-width="2.0" />
<text transform="translate(697.70,639.20) translate(-0.59,0) scale(1.0078,1)" fill="#000" ><tspan font-size="14.5" font-weight="normal" dy="0">5 min</tspan></text>
<line x1="659.60" y1="651.84" x2="693.90" y2="651.84" stroke="#4a98e6" stroke-width="2.0" />
<text transform="translate(697.70,656.94) translate(-0.33,0)" fill="#000" ><tspan font-size="14.5" font-weight="normal" dy="0">4 min</tspan></text>
<line x1="659.60" y1="669.58" x2="693.90" y2="669.58" stroke="#f2d60a" stroke-width="2.0" />
<text transform="translate(697.70,674.68) translate(-0.56,0) scale(1.0070,1)" fill="#000" ><tspan font-size="14.5" font-weight="normal" dy="0">3 min</tspan></text>
<line x1="659.60" y1="687.32" x2="693.90" y2="687.32" stroke="#4cc068" stroke-width="2.0" />
<text transform="translate(697.70,692.42) translate(-0.74,0) scale(1.0122,1)" fill="#000" ><tspan font-size="14.5" font-weight="normal" dy="0">2 min</tspan></text>
<line x1="659.60" y1="705.06" x2="693.90" y2="705.06" stroke="#f2a070" stroke-width="2.0" />
<text transform="translate(697.70,710.16) translate(-1.13,0) scale(1.0236,1)" fill="#000" ><tspan font-size="14.5" font-weight="normal" dy="0">1 min</tspan></text>
<line x1="659.60" y1="722.80" x2="693.90" y2="722.80" stroke="#e2353f" stroke-width="2.0" />
<text transform="translate(697.70,727.90) translate(-0.57,0) scale(1.0074,1)" fill="#000" ><tspan font-size="14.5" font-weight="normal" dy="0">0 min</tspan></text>
<text transform="translate(772.40,623.20) translate(-2.02,0)" fill="#000" ><tspan font-size="29" font-weight="bold" dy="0">h</tspan></text>
<polyline points="858.98,807.52 1100.91,711.32" fill="none" stroke="#2a8fe0" stroke-width="2.0" stroke-linejoin="round" stroke-linecap="round" />
<polyline points="858.98,814.24 1100.91,634.47" fill="none" stroke="#e2303a" stroke-width="2.0" stroke-linejoin="round" stroke-linecap="round" />
<circle cx="858.98" cy="819.05" r="3.1" fill="#fff" stroke="#2a8fe0" stroke-width="1.1"/>
<path d="M858.98,815.95 A3.1,3.1 0 0,1 858.98,822.15 Z" fill="#2a8fe0"/>
<circle cx="907.36" cy="777.53" r="3.1" fill="#fff" stroke="#2a8fe0" stroke-width="1.1"/>
<path d="M907.36,774.43 A3.1,3.1 0 0,1 907.36,780.63 Z" fill="#2a8fe0"/>
<circle cx="955.75" cy="762.10" r="3.1" fill="#fff" stroke="#2a8fe0" stroke-width="1.1"/>
<path d="M955.75,759.00 A3.1,3.1 0 0,1 955.75,765.20 Z" fill="#2a8fe0"/>
<circle cx="1004.13" cy="748.58" r="3.1" fill="#fff" stroke="#2a8fe0" stroke-width="1.1"/>
<path d="M1004.13,745.48 A3.1,3.1 0 0,1 1004.13,751.68 Z" fill="#2a8fe0"/>
<circle cx="1052.52" cy="732.18" r="3.1" fill="#fff" stroke="#2a8fe0" stroke-width="1.1"/>
<path d="M1052.52,729.08 A3.1,3.1 0 0,1 1052.52,735.28 Z" fill="#2a8fe0"/>
<circle cx="1100.91" cy="711.59" r="3.1" fill="#fff" stroke="#2a8fe0" stroke-width="1.1"/>
<path d="M1100.91,708.49 A3.1,3.1 0 0,1 1100.91,714.69 Z" fill="#2a8fe0"/>
<circle cx="858.98" cy="819.05" r="3.1" fill="#fff" stroke="#e2303a" stroke-width="1.1"/>
<path d="M858.98,815.95 A3.1,3.1 0 0,1 858.98,822.15 Z" fill="#e2303a"/>
<circle cx="907.36" cy="770.33" r="3.1" fill="#fff" stroke="#e2303a" stroke-width="1.1"/>
<path d="M907.36,767.23 A3.1,3.1 0 0,1 907.36,773.43 Z" fill="#e2303a"/>
<circle cx="955.75" cy="743.57" r="3.1" fill="#fff" stroke="#e2303a" stroke-width="1.1"/>
<path d="M955.75,740.47 A3.1,3.1 0 0,1 955.75,746.67 Z" fill="#e2303a"/>
<circle cx="1004.13" cy="712.69" r="3.1" fill="#fff" stroke="#e2303a" stroke-width="1.1"/>
<path d="M1004.13,709.59 A3.1,3.1 0 0,1 1004.13,715.79 Z" fill="#e2303a"/>
<circle cx="1052.52" cy="669.46" r="3.1" fill="#fff" stroke="#e2303a" stroke-width="1.1"/>
<path d="M1052.52,666.36 A3.1,3.1 0 0,1 1052.52,672.56 Z" fill="#e2303a"/>
<circle cx="1100.91" cy="633.78" r="3.1" fill="#fff" stroke="#e2303a" stroke-width="1.1"/>
<path d="M1100.91,630.68 A3.1,3.1 0 0,1 1100.91,636.88 Z" fill="#e2303a"/>
<rect x="834.30" y="613.20" width="290.80" height="223.00" fill="none" stroke="#000" stroke-width="1.5"/>
<line x1="858.98" y1="836.20" x2="858.98" y2="840.70" stroke="#000" stroke-width="1.5" />
<line x1="907.36" y1="836.20" x2="907.36" y2="840.70" stroke="#000" stroke-width="1.5" />
<line x1="955.75" y1="836.20" x2="955.75" y2="840.70" stroke="#000" stroke-width="1.5" />
<line x1="1004.13" y1="836.20" x2="1004.13" y2="840.70" stroke="#000" stroke-width="1.5" />
<line x1="1052.52" y1="836.20" x2="1052.52" y2="840.70" stroke="#000" stroke-width="1.5" />
<line x1="1100.91" y1="836.20" x2="1100.91" y2="840.70" stroke="#000" stroke-width="1.5" />
<line x1="883.17" y1="836.20" x2="883.17" y2="838.70" stroke="#000" stroke-width="1.5" />
<line x1="931.56" y1="836.20" x2="931.56" y2="838.70" stroke="#000" stroke-width="1.5" />
<line x1="979.94" y1="836.20" x2="979.94" y2="838.70" stroke="#000" stroke-width="1.5" />
<line x1="1028.33" y1="836.20" x2="1028.33" y2="838.70" stroke="#000" stroke-width="1.5" />
<line x1="1076.71" y1="836.20" x2="1076.71" y2="838.70" stroke="#000" stroke-width="1.5" />
<line x1="834.30" y1="819.05" x2="829.80" y2="819.05" stroke="#000" stroke-width="1.5" />
<line x1="834.30" y1="750.43" x2="829.80" y2="750.43" stroke="#000" stroke-width="1.5" />
<line x1="834.30" y1="681.82" x2="829.80" y2="681.82" stroke="#000" stroke-width="1.5" />
<line x1="834.30" y1="613.20" x2="829.80" y2="613.20" stroke="#000" stroke-width="1.5" />
<line x1="834.30" y1="784.74" x2="831.80" y2="784.74" stroke="#000" stroke-width="1.5" />
<line x1="834.30" y1="716.12" x2="831.80" y2="716.12" stroke="#000" stroke-width="1.5" />
<line x1="834.30" y1="647.51" x2="831.80" y2="647.51" stroke="#000" stroke-width="1.5" />
<text transform="translate(858.98,857.99) translate(-4.87,0)" fill="#000" ><tspan font-size="17.5" font-weight="normal" dy="0">0</tspan></text>
<text transform="translate(907.36,857.99) translate(-5.11,0)" fill="#000" ><tspan font-size="17.5" font-weight="normal" dy="0">1</tspan></text>
<text transform="translate(955.75,857.99) translate(-4.87,0)" fill="#000" ><tspan font-size="17.5" font-weight="normal" dy="0">2</tspan></text>
<text transform="translate(1004.13,857.99) translate(-4.82,0)" fill="#000" ><tspan font-size="17.5" font-weight="normal" dy="0">3</tspan></text>
<text transform="translate(1052.52,857.99) translate(-4.81,0)" fill="#000" ><tspan font-size="17.5" font-weight="normal" dy="0">4</tspan></text>
<text transform="translate(1100.91,857.99) translate(-4.85,0)" fill="#000" ><tspan font-size="17.5" font-weight="normal" dy="0">5</tspan></text>
<text transform="translate(826.00,824.04) translate(-9.05,0)" fill="#000" ><tspan font-size="17.5" font-weight="normal" dy="0">0</tspan></text>
<text transform="translate(826.00,755.43) translate(-8.88,0)" fill="#000" ><tspan font-size="17.5" font-weight="normal" dy="0">1</tspan></text>
<text transform="translate(826.00,686.81) translate(-8.85,0)" fill="#000" ><tspan font-size="17.5" font-weight="normal" dy="0">2</tspan></text>
<text transform="translate(826.00,618.20) translate(-8.96,0)" fill="#000" ><tspan font-size="17.5" font-weight="normal" dy="0">3</tspan></text>
<text transform="translate(979.90,880.90) translate(-49.72,0)" fill="#000" ><tspan font-size="21" font-weight="normal" dy="0">Time (min)</tspan></text>
<text transform="translate(810.00,728.70) rotate(-90) translate(-113.02,0) scale(1.0285,1)" fill="#000" ><tspan font-size="21" font-weight="normal" dy="0">F.L. Intensity at 530 nm</tspan></text>
<line x1="844.50" y1="632.70" x2="883.50" y2="632.70" stroke="#2a8fe0" stroke-width="2.0" />
<line x1="844.50" y1="654.80" x2="883.50" y2="654.80" stroke="#e2303a" stroke-width="2.0" />
<text transform="translate(887.80,637.60) translate(-0.86,0) scale(1.0718,1)" fill="#000" ><tspan font-size="16" font-weight="normal" dy="0">25°C</tspan></text>
<text transform="translate(887.80,660.30) translate(-0.39,0) scale(1.0583,1)" fill="#000" ><tspan font-size="16" font-weight="normal" dy="0">45°C</tspan></text>
<text transform="translate(949.90,658.70) translate(-1.40,0) scale(1.1519,1)" fill="#e0393d" ><tspan font-size="18" font-weight="normal" dy="0">k</tspan></text>
<text transform="translate(959.00,658.70) translate(-0.25,0) scale(1.1382,1)" fill="#e0393d" ><tspan font-size="9.5" font-weight="normal" dy="0">40°C</tspan></text>
<text transform="translate(982.90,658.70) translate(-0.95,0) scale(1.0832,1)" fill="#e0393d" ><tspan font-size="18" font-weight="normal" dy="0">=0.52</tspan></text>
<text transform="translate(1016.40,788.80) translate(-1.24,0) scale(1.0239,1)" fill="#3b8ede" ><tspan font-size="18" font-weight="normal" dy="0">k</tspan></text>
<text transform="translate(1024.60,788.80) translate(-0.55,0) scale(1.1478,1)" fill="#3b8ede" ><tspan font-size="9.5" font-weight="normal" dy="0">25°C</tspan></text>
<text transform="translate(1048.40,788.80) translate(-0.95,0) scale(1.0838,1)" fill="#3b8ede" ><tspan font-size="18" font-weight="normal" dy="0">=0.286</tspan></text>
<line x1="1026.40" y1="685.50" x2="1006.83" y2="667.73" stroke="#e0393d" stroke-width="1.3" />
<polygon points="1003.50,664.70 1009.32,666.47 1005.82,670.32" fill="#e0393d"/>
<line x1="1045.20" y1="739.10" x2="1065.08" y2="762.47" stroke="#3b8ede" stroke-width="1.3" />
<polygon points="1068.00,765.90 1062.46,763.40 1066.42,760.03" fill="#3b8ede"/>
</svg>
</body></html>
